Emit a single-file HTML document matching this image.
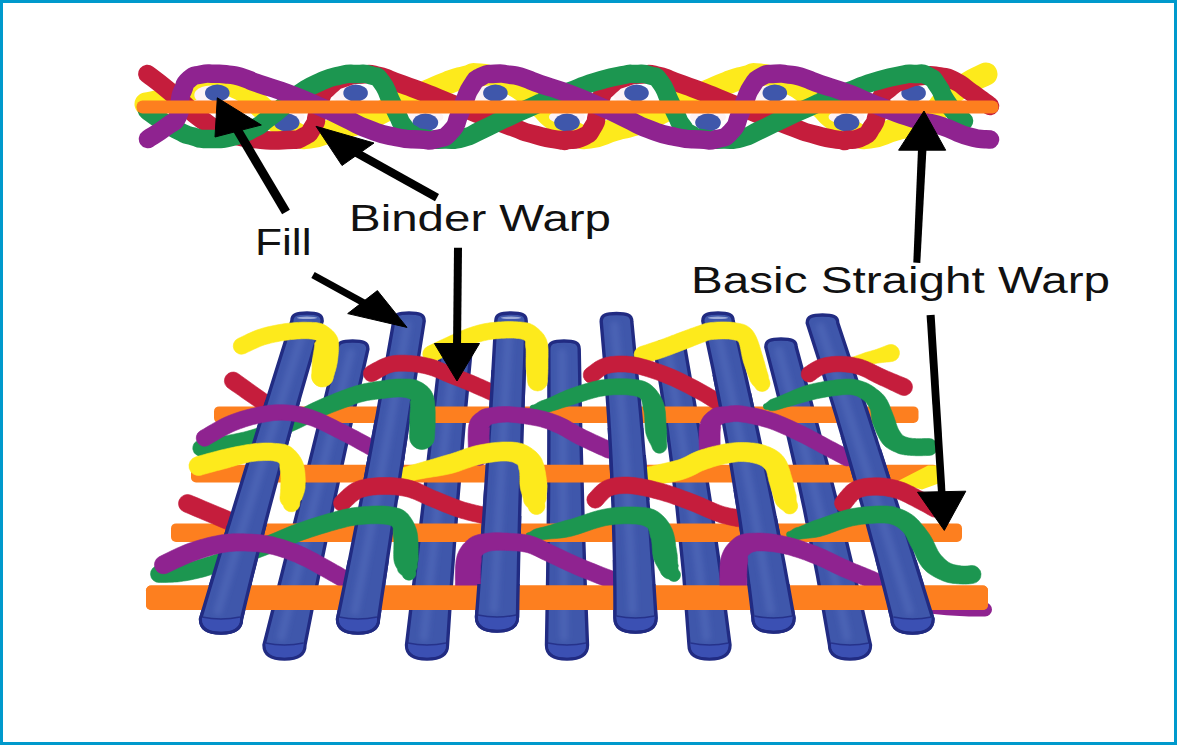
<!DOCTYPE html>
<html lang="en">
<head>
<meta charset="utf-8">
<title>3D woven structure: Fill, Binder Warp, Basic Straight Warp</title>
<style>
html,body{margin:0;padding:0;background:#fff;}
body{width:1179px;height:746px;overflow:hidden;font-family:"Liberation Sans",sans-serif;}
svg{display:block;}
</style>
</head>
<body>
<svg width="1179" height="746" viewBox="0 0 1179 746">
<defs><filter id="bl" filterUnits="userSpaceOnUse" x="0" y="0" width="1179" height="746"><feGaussianBlur stdDeviation="2.5"/></filter><clipPath id="c1"><rect x="470.0" y="370.0" width="56.0" height="42.0"/></clipPath><clipPath id="c2"><rect x="690.0" y="375.0" width="52.5" height="18.0"/></clipPath><clipPath id="c3"><rect x="0.0" y="393.0" width="1179.0" height="25.0"/></clipPath><clipPath id="c4"><rect x="0.0" y="400.0" width="1179.0" height="55.0"/></clipPath><clipPath id="c5"><rect x="330.0" y="420.0" width="78.5" height="48.0"/></clipPath><clipPath id="c6"><rect x="580.0" y="428.0" width="63.5" height="42.0"/></clipPath><clipPath id="c7"><rect x="820.0" y="436.0" width="57.5" height="13.0"/></clipPath><clipPath id="c8"><rect x="0.0" y="449.0" width="1179.0" height="29.0"/></clipPath><clipPath id="c9"><rect x="0.0" y="455.0" width="1179.0" height="45.0"/></clipPath><clipPath id="c10"><rect x="0.0" y="455.0" width="1179.0" height="45.0"/></clipPath><clipPath id="c11"><rect x="470.0" y="490.0" width="46.0" height="26.0"/></clipPath><clipPath id="c12"><rect x="0.0" y="516.0" width="1179.0" height="26.0"/></clipPath><clipPath id="c13"><rect x="700.0" y="490.0" width="65.0" height="26.0"/></clipPath><clipPath id="c14"><rect x="0.0" y="516.0" width="1179.0" height="26.0"/></clipPath><clipPath id="c15"><rect x="0.0" y="525.0" width="1179.0" height="67.0"/></clipPath><clipPath id="c16"><rect x="320.0" y="560.0" width="72.0" height="24.5"/></clipPath><clipPath id="c17"><rect x="590.0" y="560.0" width="62.5" height="24.5"/></clipPath><clipPath id="c18"><rect x="0.0" y="560.0" width="1179.0" height="24.5"/></clipPath><clipPath id="c19"><rect x="0.0" y="584.0" width="1179.0" height="76.0"/></clipPath><clipPath id="c20"><rect x="0.0" y="584.0" width="1179.0" height="76.0"/></clipPath><clipPath id="c21"><rect x="0.0" y="584.0" width="1179.0" height="76.0"/></clipPath><clipPath id="c22"><rect x="0.0" y="584.0" width="1179.0" height="76.0"/></clipPath><clipPath id="c23"><rect x="0.0" y="584.0" width="1179.0" height="76.0"/></clipPath><clipPath id="c24"><rect x="0.0" y="584.0" width="1179.0" height="76.0"/></clipPath></defs>
<rect x="0" y="0" width="1179" height="746" fill="#fff"/>
<rect x="1.5" y="1.5" width="1174" height="742" fill="none" stroke="#0099cc" stroke-width="3"/>
<path d="M146.0 104.0 C154.0 102.0 153.7 103.3 170.0 98.0 C186.3 92.7 180.0 92.7 195.0 88.0 C210.0 83.3 200.0 83.7 215.0 84.0 C230.0 84.3 225.0 81.7 240.0 89.0 C255.0 96.3 248.3 95.7 260.0 106.0 C271.7 116.3 263.3 111.0 275.0 120.0 C286.7 129.0 283.3 127.3 295.0 133.0 C306.7 138.7 296.7 138.2 310.0 137.0 C323.3 135.8 321.0 133.5 335.0 129.5 C349.0 125.5 340.3 128.8 352.0 125.0 C363.7 121.2 350.7 127.0 370.0 118.0 C389.3 109.0 391.0 106.8 410.0 98.0 C429.0 89.2 414.7 96.5 427.0 91.5 C439.3 86.5 434.3 87.7 447.0 83.0 C459.7 78.3 454.0 80.2 465.0 77.5 C476.0 74.8 467.7 73.8 480.0 75.0 C492.3 76.2 488.0 76.0 502.0 81.0 C516.0 86.0 509.3 81.7 522.0 90.0 C534.7 98.3 529.0 96.0 540.0 106.0 C551.0 116.0 543.3 111.0 555.0 120.0 C566.7 129.0 563.3 127.3 575.0 133.0 C586.7 138.7 576.7 138.2 590.0 137.0 C603.3 135.8 601.0 133.5 615.0 129.5 C629.0 125.5 620.3 128.8 632.0 125.0 C643.7 121.2 630.7 127.0 650.0 118.0 C669.3 109.0 671.0 106.8 690.0 98.0 C709.0 89.2 694.7 96.5 707.0 91.5 C719.3 86.5 714.3 87.7 727.0 83.0 C739.7 78.3 734.0 80.2 745.0 77.5 C756.0 74.8 747.7 73.8 760.0 75.0 C772.3 76.2 768.0 76.0 782.0 81.0 C796.0 86.0 789.3 81.7 802.0 90.0 C814.7 98.3 809.0 96.0 820.0 106.0 C831.0 116.0 823.3 111.0 835.0 120.0 C846.7 129.0 843.3 127.3 855.0 133.0 C866.7 138.7 856.7 138.2 870.0 137.0 C883.3 135.8 881.0 133.5 895.0 129.5 C909.0 125.5 900.3 128.8 912.0 125.0 C923.7 121.2 919.0 126.3 930.0 118.0 C941.0 109.7 933.3 111.0 945.0 100.0 C956.7 89.0 951.3 93.7 965.0 85.0 C978.7 76.3 979.0 77.7 986.0 74.0" fill="none" stroke="#fdea1c" stroke-width="23.0" stroke-linecap="round" stroke-linejoin="round" />
<ellipse cx="211.3" cy="95" rx="17" ry="9.5" fill="#fdf3f6"/>
<ellipse cx="349.6" cy="95" rx="17" ry="9.5" fill="#fdf3f6"/>
<ellipse cx="489.4" cy="95" rx="17" ry="9.5" fill="#fdf3f6"/>
<ellipse cx="630.5" cy="95" rx="17" ry="9.5" fill="#fdf3f6"/>
<ellipse cx="768.8" cy="95" rx="17" ry="9.5" fill="#fdf3f6"/>
<ellipse cx="907.6" cy="95" rx="17" ry="9.5" fill="#fdf3f6"/>
<ellipse cx="286.7" cy="117" rx="18" ry="7" fill="#fdf3f6"/>
<ellipse cx="425.4" cy="117" rx="18" ry="7" fill="#fdf3f6"/>
<ellipse cx="567.0" cy="117" rx="18" ry="7" fill="#fdf3f6"/>
<ellipse cx="708.0" cy="117" rx="18" ry="7" fill="#fdf3f6"/>
<ellipse cx="846.6" cy="117" rx="18" ry="7" fill="#fdf3f6"/>
<ellipse cx="217.3" cy="93" rx="12.3" ry="8.6" fill="#3f57ab"/>
<ellipse cx="355.6" cy="93" rx="12.3" ry="8.6" fill="#3f57ab"/>
<ellipse cx="495.4" cy="93" rx="12.3" ry="8.6" fill="#3f57ab"/>
<ellipse cx="636.5" cy="93" rx="12.3" ry="8.6" fill="#3f57ab"/>
<ellipse cx="774.8" cy="93" rx="12.3" ry="8.6" fill="#3f57ab"/>
<ellipse cx="913.6" cy="93" rx="12.3" ry="8.6" fill="#3f57ab"/>
<ellipse cx="286.7" cy="122.5" rx="12.8" ry="9" fill="#3f57ab"/>
<ellipse cx="425.4" cy="122.5" rx="12.8" ry="9" fill="#3f57ab"/>
<ellipse cx="567.0" cy="122.5" rx="12.8" ry="9" fill="#3f57ab"/>
<ellipse cx="708.0" cy="122.5" rx="12.8" ry="9" fill="#3f57ab"/>
<ellipse cx="846.6" cy="122.5" rx="12.8" ry="9" fill="#3f57ab"/>
<path d="M147.4 74.0 C154.4 79.4 155.9 80.0 168.4 90.3 C180.9 100.6 174.1 95.4 185.0 105.0 C195.9 114.6 187.7 110.0 201.0 119.0 C214.3 128.0 207.0 125.3 225.0 132.0 C243.0 138.7 234.3 136.3 255.0 139.0 C275.7 141.7 271.0 140.7 287.0 140.0 C303.0 139.3 294.3 141.3 303.0 137.0 C311.7 132.7 308.3 134.3 313.0 127.0 C317.7 119.7 314.7 124.0 317.0 115.0 C319.3 106.0 315.7 109.7 320.0 100.0 C324.3 90.3 321.7 93.5 330.0 86.0 C338.3 78.5 334.3 81.3 345.0 77.5 C355.7 73.7 350.7 75.0 362.0 74.5 C373.3 74.0 367.3 73.3 379.0 76.0 C390.7 78.7 382.3 77.2 397.0 82.5 C411.7 87.8 402.3 84.0 423.0 92.0 C443.7 100.0 430.7 95.3 459.0 106.5 C487.3 117.7 482.3 116.0 508.0 125.5 C533.7 135.0 518.7 130.2 536.0 135.0 C553.3 139.8 549.7 138.3 560.0 140.0 C570.3 141.7 559.3 141.0 567.0 140.0 C574.7 139.0 574.3 141.3 583.0 137.0 C591.7 132.7 588.3 134.3 593.0 127.0 C597.7 119.7 594.7 124.0 597.0 115.0 C599.3 106.0 595.7 109.7 600.0 100.0 C604.3 90.3 601.7 93.5 610.0 86.0 C618.3 78.5 614.3 81.3 625.0 77.5 C635.7 73.7 630.7 75.0 642.0 74.5 C653.3 74.0 647.3 73.3 659.0 76.0 C670.7 78.7 662.3 77.2 677.0 82.5 C691.7 87.8 682.3 84.0 703.0 92.0 C723.7 100.0 710.7 95.3 739.0 106.5 C767.3 117.7 762.3 116.0 788.0 125.5 C813.7 135.0 798.7 130.2 816.0 135.0 C833.3 139.8 829.8 138.3 840.0 140.0 C850.2 141.7 839.3 141.0 846.6 140.0 C853.9 139.0 853.5 141.3 862.0 137.0 C870.5 132.7 867.0 134.3 872.0 127.0 C877.0 119.7 874.3 124.0 877.0 115.0 C879.7 106.0 875.7 109.0 880.0 100.0 C884.3 91.0 881.7 94.7 890.0 88.0 C898.3 81.3 894.3 84.0 905.0 80.0 C915.7 76.0 910.3 77.2 922.0 76.0 C933.7 74.8 929.0 74.8 940.0 76.5 C951.0 78.2 945.5 76.4 955.0 81.0 C964.5 85.6 959.5 84.0 968.5 90.3 C977.5 96.6 974.8 94.8 982.0 100.0 C989.2 105.2 987.3 104.0 990.0 106.0" fill="none" stroke="#c51d3c" stroke-width="18.5" stroke-linecap="round" stroke-linejoin="round" />
<path d="M147.0 110.5 C152.0 114.0 151.3 114.2 162.0 121.0 C172.7 127.8 168.7 125.9 179.0 131.0 C189.3 136.1 183.0 133.7 193.0 136.4 C203.0 139.1 195.5 139.0 209.0 139.0 C222.5 139.0 218.5 140.0 233.5 136.4 C248.5 132.8 242.7 134.1 254.0 128.3 C265.3 122.5 257.2 126.8 267.5 119.0 C277.8 111.2 274.2 113.7 285.0 105.0 C295.8 96.3 288.3 100.7 300.0 93.0 C311.7 85.3 306.7 87.8 320.0 82.0 C333.3 76.2 327.8 78.2 340.0 75.5 C352.2 72.8 346.1 74.0 356.6 74.0 C367.1 74.0 363.3 72.8 371.6 75.5 C379.9 78.2 375.3 73.8 381.6 82.0 C387.9 90.2 385.3 89.0 390.6 100.0 C395.9 111.0 393.3 106.3 397.6 115.0 C401.9 123.7 398.9 119.7 403.6 126.0 C408.3 132.3 404.6 129.8 411.6 134.0 C418.6 138.2 413.6 136.7 424.6 138.5 C435.6 140.3 431.9 139.7 444.6 139.5 C457.3 139.3 449.9 141.3 462.6 138.0 C475.3 134.7 467.3 136.5 482.6 129.5 C497.9 122.5 490.6 125.3 508.6 117.0 C526.6 108.7 522.9 111.0 536.6 104.5 C550.3 98.0 539.3 101.7 549.6 97.5 C559.9 93.3 552.6 97.2 567.6 92.0 C582.6 86.8 576.6 87.5 594.6 82.0 C612.6 76.5 608.0 78.1 621.6 75.4 C635.2 72.7 625.7 74.0 635.3 74.0 C644.9 74.0 642.0 72.8 650.3 75.5 C658.6 78.2 654.0 73.8 660.3 82.0 C666.6 90.2 664.0 89.0 669.3 100.0 C674.6 111.0 672.0 106.3 676.3 115.0 C680.6 123.7 677.6 119.7 682.3 126.0 C687.0 132.3 683.3 129.8 690.3 134.0 C697.3 138.2 692.3 136.7 703.3 138.5 C714.3 140.3 710.6 139.7 723.3 139.5 C736.0 139.3 728.6 141.3 741.3 138.0 C754.0 134.7 746.0 136.5 761.3 129.5 C776.6 122.5 769.3 125.3 787.3 117.0 C805.3 108.7 801.6 111.0 815.3 104.5 C829.0 98.0 818.0 101.7 828.3 97.5 C838.6 93.3 831.3 97.2 846.3 92.0 C861.3 86.8 855.3 87.5 873.3 82.0 C891.3 76.5 886.7 78.1 900.3 75.4 C913.9 72.7 904.8 73.8 914.0 74.0 C923.2 74.2 920.0 72.0 928.0 76.0 C936.0 80.0 932.2 78.0 938.0 86.0 C943.8 94.0 939.5 90.7 945.5 100.0 C951.5 109.3 949.8 107.0 956.0 114.0 C962.2 121.0 961.3 118.7 964.0 121.0" fill="none" stroke="#1c9650" stroke-width="18.5" stroke-linecap="round" stroke-linejoin="round" />
<path d="M148.0 139.0 C154.0 135.0 156.0 134.7 166.0 127.0 C176.0 119.3 173.3 125.0 178.0 116.0 C182.7 107.0 178.3 108.7 180.0 100.0 C181.7 91.3 180.0 96.8 183.0 90.0 C186.0 83.2 183.0 84.7 189.0 79.5 C195.0 74.3 192.5 76.4 201.0 74.5 C209.5 72.6 205.4 73.7 214.6 73.8 C223.8 73.9 219.4 73.5 228.6 74.7 C237.8 75.9 231.8 74.3 242.1 77.4 C252.4 80.5 244.8 78.8 259.6 84.0 C274.4 89.2 266.6 85.5 286.6 93.0 C306.6 100.5 300.3 98.2 319.6 106.5 C338.9 114.8 328.4 110.5 344.6 118.0 C360.8 125.5 351.2 122.7 368.1 129.0 C385.0 135.3 378.1 133.5 395.3 137.0 C412.5 140.5 405.8 138.8 419.6 139.5 C433.4 140.2 426.1 141.8 436.6 139.0 C447.1 136.2 443.6 139.1 451.2 131.0 C458.8 122.9 454.8 124.7 459.3 114.7 C463.8 104.7 460.5 110.6 464.6 101.0 C468.7 91.4 466.1 94.1 471.6 86.0 C477.1 77.9 473.2 80.8 481.0 76.7 C488.8 72.6 485.7 74.5 495.0 73.8 C504.3 73.1 499.8 73.5 509.0 74.7 C518.2 75.9 512.2 74.3 522.5 77.4 C532.8 80.5 525.2 78.8 540.0 84.0 C554.8 89.2 547.0 85.5 567.0 93.0 C587.0 100.5 580.7 98.2 600.0 106.5 C619.3 114.8 608.8 110.5 625.0 118.0 C641.2 125.5 631.6 122.7 648.5 129.0 C665.4 135.3 658.5 133.5 675.7 137.0 C692.9 140.5 686.2 138.8 700.0 139.5 C713.8 140.2 706.5 141.8 717.0 139.0 C727.5 136.2 724.0 139.1 731.6 131.0 C739.2 122.9 735.2 124.7 739.7 114.7 C744.2 104.7 740.9 110.6 745.0 101.0 C749.1 91.4 746.5 94.1 752.0 86.0 C757.5 77.9 753.7 80.8 761.4 76.7 C769.1 72.6 765.8 74.5 775.0 73.8 C784.2 73.1 779.8 73.5 789.0 74.7 C798.2 75.9 792.2 74.3 802.5 77.4 C812.8 80.5 805.2 78.8 820.0 84.0 C834.8 89.2 827.0 85.5 847.0 93.0 C867.0 100.5 857.7 97.9 880.0 106.5 C902.3 115.1 893.5 112.3 914.0 118.8 C934.5 125.3 923.2 120.1 941.4 126.0 C959.6 131.9 952.3 131.9 968.5 136.4 C984.7 140.9 982.8 138.5 990.0 139.5" fill="none" stroke="#8f2390" stroke-width="18.5" stroke-linecap="round" stroke-linejoin="round" />
<rect x="136.5" y="100.5" width="862" height="13" rx="6" fill="#fd7f1f"/>
<g>
<path d="M264.0 645.0 Q301.5 497.0 337.4 349.0 C337.4 342.5 342.4 341.0 352.6 341.0 C362.9 341.0 367.9 342.5 367.9 349.0 Q333.6 497.0 305.0 645.0 C305.0 656.0 296.0 659.0 284.5 659.0 C273.0 659.0 264.0 656.0 264.0 645.0 Z" fill="#3f57ab" stroke="#212b82" stroke-width="3.4" stroke-linejoin="round"/>
<path d="M350.6 353.0 Q315.1 500.0 281.5 637.0" fill="none" stroke="#6079c8" stroke-opacity="0.32" stroke-width="9" stroke-linecap="round" filter="url(#bl)"/>
<path d="M265.5 643.0 Q284.5 647.0 303.5 643.0 L303.5 645.0 C303.5 655.0 294.5 657.5 284.5 657.5 C274.5 657.5 265.5 655.0 265.5 645.0 Z" fill="#3b50b3"/>
<path d="M265.5 643.0 Q284.5 647.0 303.5 643.0" fill="none" stroke="#212b82" stroke-width="1.6" stroke-opacity="0.8"/>
</g>
<g>
<path d="M406.5 645.0 Q424.4 497.0 440.8 349.0 C440.8 342.5 445.8 341.0 456.0 341.0 C466.2 341.0 471.2 342.5 471.2 349.0 Q456.6 497.0 447.5 645.0 C447.5 656.0 438.5 659.0 427.0 659.0 C415.5 659.0 406.5 656.0 406.5 645.0 Z" fill="#3f57ab" stroke="#212b82" stroke-width="3.4" stroke-linejoin="round"/>
<path d="M454.0 353.0 Q438.0 500.0 424.0 637.0" fill="none" stroke="#6079c8" stroke-opacity="0.32" stroke-width="9" stroke-linecap="round" filter="url(#bl)"/>
<path d="M408.0 643.0 Q427.0 647.0 446.0 643.0 L446.0 645.0 C446.0 655.0 437.0 657.5 427.0 657.5 C417.0 657.5 408.0 655.0 408.0 645.0 Z" fill="#3b50b3"/>
<path d="M408.0 643.0 Q427.0 647.0 446.0 643.0" fill="none" stroke="#212b82" stroke-width="1.6" stroke-opacity="0.8"/>
</g>
<g>
<path d="M546.5 645.0 Q549.5 497.0 548.8 349.0 C548.8 342.5 553.8 341.0 564.0 341.0 C574.2 341.0 579.2 342.5 579.2 349.0 Q581.5 497.0 587.5 645.0 C587.5 656.0 578.5 659.0 567.0 659.0 C555.5 659.0 546.5 656.0 546.5 645.0 Z" fill="#3f57ab" stroke="#212b82" stroke-width="3.4" stroke-linejoin="round"/>
<path d="M562.0 353.0 Q563.0 500.0 564.0 637.0" fill="none" stroke="#6079c8" stroke-opacity="0.32" stroke-width="9" stroke-linecap="round" filter="url(#bl)"/>
<path d="M548.0 643.0 Q567.0 647.0 586.0 643.0 L586.0 645.0 C586.0 655.0 577.0 657.5 567.0 657.5 C557.0 657.5 548.0 655.0 548.0 645.0 Z" fill="#3b50b3"/>
<path d="M548.0 643.0 Q567.0 647.0 586.0 643.0" fill="none" stroke="#212b82" stroke-width="1.6" stroke-opacity="0.8"/>
</g>
<g>
<path d="M689.0 645.0 Q679.7 497.0 654.8 349.0 C654.8 342.5 659.8 341.0 670.0 341.0 C680.2 341.0 685.2 342.5 685.2 349.0 Q711.8 497.0 730.0 645.0 C730.0 656.0 721.0 659.0 709.5 659.0 C698.0 659.0 689.0 656.0 689.0 645.0 Z" fill="#3f57ab" stroke="#212b82" stroke-width="3.4" stroke-linejoin="round"/>
<path d="M668.0 353.0 Q693.2 500.0 706.5 637.0" fill="none" stroke="#6079c8" stroke-opacity="0.32" stroke-width="9" stroke-linecap="round" filter="url(#bl)"/>
<path d="M690.5 643.0 Q709.5 647.0 728.5 643.0 L728.5 645.0 C728.5 655.0 719.5 657.5 709.5 657.5 C699.5 657.5 690.5 655.0 690.5 645.0 Z" fill="#3b50b3"/>
<path d="M690.5 643.0 Q709.5 647.0 728.5 643.0" fill="none" stroke="#212b82" stroke-width="1.6" stroke-opacity="0.8"/>
</g>
<g>
<path d="M829.5 645.0 Q805.5 496.0 765.8 347.0 C765.8 340.5 770.8 339.0 781.0 339.0 C791.2 339.0 796.2 340.5 796.2 347.0 Q837.5 496.0 870.5 645.0 C870.5 656.0 861.5 659.0 850.0 659.0 C838.5 659.0 829.5 656.0 829.5 645.0 Z" fill="#3f57ab" stroke="#212b82" stroke-width="3.4" stroke-linejoin="round"/>
<path d="M779.0 351.0 Q819.0 499.0 847.0 637.0" fill="none" stroke="#6079c8" stroke-opacity="0.32" stroke-width="9" stroke-linecap="round" filter="url(#bl)"/>
<path d="M831.0 643.0 Q850.0 647.0 869.0 643.0 L869.0 645.0 C869.0 655.0 860.0 657.5 850.0 657.5 C840.0 657.5 831.0 655.0 831.0 645.0 Z" fill="#3b50b3"/>
<path d="M831.0 643.0 Q850.0 647.0 869.0 643.0" fill="none" stroke="#212b82" stroke-width="1.6" stroke-opacity="0.8"/>
</g>
<path d="M925.0 606.0 C936.7 607.0 940.0 607.8 960.0 609.0 C980.0 610.2 976.7 609.3 985.0 609.5" fill="none" stroke="#8f2390" stroke-width="14.0" stroke-linecap="round" stroke-linejoin="round" />
<rect x="214.0" y="406.4" width="704.5" height="16.6" rx="5" fill="#fd7f1f"/>
<rect x="191.0" y="464.8" width="747.0" height="17.7" rx="5" fill="#fd7f1f"/>
<rect x="171.0" y="523.4" width="791.0" height="18.6" rx="5" fill="#fd7f1f"/>
<rect x="146.0" y="585.6" width="842.0" height="24.4" rx="5" fill="#fd7f1f"/>
<path d="M227.0 387.1L228.9 388.5L231.6 390.4L234.8 392.6L238.4 395.1L242.1 397.8L246.0 400.4L249.8 403.1L253.4 405.5L256.6 407.7L259.2 409.5L261.5 411.1L263.6 412.4L265.5 413.6L267.2 414.6L268.7 415.5L270.1 416.3L271.2 416.9L272.2 417.5L273.0 417.9L273.7 418.3A8.5 8.5 0 0 0 282.3 403.7L281.5 403.2L280.6 402.7L279.6 402.1L278.5 401.5L277.3 400.8L275.9 400.0L274.4 399.1L272.7 398.1L270.8 396.8L268.8 395.5L266.2 393.7L263.1 391.5L259.6 389.1L255.9 386.4L252.1 383.7L248.4 381.0L244.8 378.4L241.7 376.2L239.0 374.3L237.0 372.9A8.8 8.8 0 0 0 227.0 387.1Z" fill="#c51d3c" stroke="#c51d3c" stroke-width="0.6" stroke-linejoin="round" />
<path d="M184.0 511.8L186.5 512.8L189.9 514.2L193.8 515.9L198.3 517.8L203.0 519.8L207.8 521.8L212.6 523.8L217.1 525.7L221.1 527.4L224.5 528.8L227.4 530.0L230.1 531.2L232.6 532.2L234.9 533.2L237.0 534.1L238.9 534.9L240.6 535.6L242.1 536.3L243.4 536.8L244.5 537.3A9.0 9.0 0 0 0 251.5 520.7L250.4 520.3L249.1 519.7L247.7 519.1L246.0 518.3L244.1 517.5L242.0 516.6L239.7 515.7L237.1 514.6L234.4 513.4L231.5 512.2L228.1 510.8L224.1 509.1L219.6 507.2L214.8 505.2L210.0 503.2L205.2 501.2L200.8 499.3L196.8 497.6L193.5 496.3L191.0 495.2A9.0 9.0 0 0 0 184.0 511.8Z" fill="#c51d3c" stroke="#c51d3c" stroke-width="0.6" stroke-linejoin="round" />
<g>
<path d="M200.5 619.0 Q244.9 470.0 291.8 321.0 C291.8 314.5 296.8 313.0 307.0 313.0 C317.2 313.0 322.2 314.5 322.2 321.0 Q277.1 470.0 241.5 619.0 C241.5 630.0 232.5 633.0 221.0 633.0 C209.5 633.0 200.5 630.0 200.5 619.0 Z" fill="#3f57ab" stroke="#212b82" stroke-width="3.4" stroke-linejoin="round"/>
<path d="M305.0 325.0 Q258.5 473.0 218.0 611.0" fill="none" stroke="#6079c8" stroke-opacity="0.32" stroke-width="9" stroke-linecap="round" filter="url(#bl)"/>
<path d="M202.0 617.0 Q221.0 621.0 240.0 617.0 L240.0 619.0 C240.0 629.0 231.0 631.5 221.0 631.5 C211.0 631.5 202.0 629.0 202.0 619.0 Z" fill="#3b50b3"/>
<path d="M202.0 617.0 Q221.0 621.0 240.0 617.0" fill="none" stroke="#212b82" stroke-width="1.6" stroke-opacity="0.8"/>
<ellipse cx="307.0" cy="317.8" rx="10.2" ry="1.2" fill="#dfe6f7" fill-opacity="0.6"/>
</g>
<g>
<path d="M337.5 619.0 Q368.4 470.0 393.8 321.0 C393.8 314.5 398.8 313.0 409.0 313.0 C419.2 313.0 424.2 314.5 424.2 321.0 Q400.6 470.0 378.5 619.0 C378.5 630.0 369.5 633.0 358.0 633.0 C346.5 633.0 337.5 630.0 337.5 619.0 Z" fill="#3f57ab" stroke="#212b82" stroke-width="3.4" stroke-linejoin="round"/>
<path d="M407.0 325.0 Q382.0 473.0 355.0 611.0" fill="none" stroke="#6079c8" stroke-opacity="0.32" stroke-width="9" stroke-linecap="round" filter="url(#bl)"/>
<path d="M339.0 617.0 Q358.0 621.0 377.0 617.0 L377.0 619.0 C377.0 629.0 368.0 631.5 358.0 631.5 C348.0 631.5 339.0 629.0 339.0 619.0 Z" fill="#3b50b3"/>
<path d="M339.0 617.0 Q358.0 621.0 377.0 617.0" fill="none" stroke="#212b82" stroke-width="1.6" stroke-opacity="0.8"/>
</g>
<g>
<path d="M476.5 617.0 Q487.9 469.0 495.8 321.0 C495.8 314.5 500.8 313.0 511.0 313.0 C521.2 313.0 526.2 314.5 526.2 321.0 Q520.0 469.0 517.5 617.0 C517.5 628.0 508.5 631.0 497.0 631.0 C485.5 631.0 476.5 628.0 476.5 617.0 Z" fill="#3f57ab" stroke="#212b82" stroke-width="3.4" stroke-linejoin="round"/>
<path d="M509.0 325.0 Q501.5 472.0 494.0 609.0" fill="none" stroke="#6079c8" stroke-opacity="0.32" stroke-width="9" stroke-linecap="round" filter="url(#bl)"/>
<path d="M478.0 615.0 Q497.0 619.0 516.0 615.0 L516.0 617.0 C516.0 627.0 507.0 629.5 497.0 629.5 C487.0 629.5 478.0 627.0 478.0 617.0 Z" fill="#3b50b3"/>
<path d="M478.0 615.0 Q497.0 619.0 516.0 615.0" fill="none" stroke="#212b82" stroke-width="1.6" stroke-opacity="0.8"/>
<ellipse cx="511.0" cy="317.8" rx="10.2" ry="1.2" fill="#dfe6f7" fill-opacity="0.6"/>
</g>
<g>
<path d="M615.0 618.0 Q615.0 469.8 601.2 321.5 C601.2 315.0 606.2 313.5 616.5 313.5 C626.8 313.5 631.8 315.0 631.8 321.5 Q647.0 469.8 656.0 618.0 C656.0 629.0 647.0 632.0 635.5 632.0 C624.0 632.0 615.0 629.0 615.0 618.0 Z" fill="#3f57ab" stroke="#212b82" stroke-width="3.4" stroke-linejoin="round"/>
<path d="M614.5 325.5 Q628.5 472.8 632.5 610.0" fill="none" stroke="#6079c8" stroke-opacity="0.32" stroke-width="9" stroke-linecap="round" filter="url(#bl)"/>
<path d="M616.5 616.0 Q635.5 620.0 654.5 616.0 L654.5 618.0 C654.5 628.0 645.5 630.5 635.5 630.5 C625.5 630.5 616.5 628.0 616.5 618.0 Z" fill="#3b50b3"/>
<path d="M616.5 616.0 Q635.5 620.0 654.5 616.0" fill="none" stroke="#212b82" stroke-width="1.6" stroke-opacity="0.8"/>
</g>
<g>
<path d="M753.0 618.0 Q735.7 469.5 702.8 321.0 C702.8 314.5 707.8 313.0 718.0 313.0 C728.2 313.0 733.2 314.5 733.2 321.0 Q767.8 469.5 794.0 618.0 C794.0 629.0 785.0 632.0 773.5 632.0 C762.0 632.0 753.0 629.0 753.0 618.0 Z" fill="#3f57ab" stroke="#212b82" stroke-width="3.4" stroke-linejoin="round"/>
<path d="M716.0 325.0 Q749.2 472.5 770.5 610.0" fill="none" stroke="#6079c8" stroke-opacity="0.32" stroke-width="9" stroke-linecap="round" filter="url(#bl)"/>
<path d="M754.5 616.0 Q773.5 620.0 792.5 616.0 L792.5 618.0 C792.5 628.0 783.5 630.5 773.5 630.5 C763.5 630.5 754.5 628.0 754.5 618.0 Z" fill="#3b50b3"/>
<path d="M754.5 616.0 Q773.5 620.0 792.5 616.0" fill="none" stroke="#212b82" stroke-width="1.6" stroke-opacity="0.8"/>
<ellipse cx="718.0" cy="317.8" rx="10.2" ry="1.2" fill="#dfe6f7" fill-opacity="0.6"/>
</g>
<g>
<path d="M892.0 619.0 Q855.5 471.0 807.2 323.0 C807.2 316.5 812.2 315.0 822.5 315.0 C832.8 315.0 837.8 316.5 837.8 323.0 Q887.5 471.0 933.0 619.0 C933.0 630.0 924.0 633.0 912.5 633.0 C901.0 633.0 892.0 630.0 892.0 619.0 Z" fill="#3f57ab" stroke="#212b82" stroke-width="3.4" stroke-linejoin="round"/>
<path d="M820.5 327.0 Q869.0 474.0 909.5 611.0" fill="none" stroke="#6079c8" stroke-opacity="0.32" stroke-width="9" stroke-linecap="round" filter="url(#bl)"/>
<path d="M893.5 617.0 Q912.5 621.0 931.5 617.0 L931.5 619.0 C931.5 629.0 922.5 631.5 912.5 631.5 C902.5 631.5 893.5 629.0 893.5 619.0 Z" fill="#3b50b3"/>
<path d="M893.5 617.0 Q912.5 621.0 931.5 617.0" fill="none" stroke="#212b82" stroke-width="1.6" stroke-opacity="0.8"/>
</g>
<path d="M244.9 353.5L246.2 352.9L247.8 352.1L249.6 351.3L251.7 350.3L253.8 349.3L256.0 348.3L258.3 347.3L260.5 346.3L262.6 345.5L264.6 344.8L266.5 344.2L268.6 343.7L270.7 343.1L272.9 342.6L275.1 342.1L277.3 341.7L279.6 341.2L281.8 340.8L284.0 340.5L286.2 340.2L288.3 339.9L290.5 339.6L292.7 339.4L294.9 339.2L297.1 339.0L299.3 338.9L301.3 338.8L303.3 338.7L305.1 338.7L306.8 338.7L308.5 338.8L310.0 338.9L311.4 339.1L312.7 339.2L313.8 339.4L314.7 339.7L315.4 339.9L315.8 340.1L316.1 340.3L316.3 340.4L316.4 340.6L316.3 340.8L316.2 341.2L315.9 341.6L315.5 341.9L315.2 342.4L314.9 342.8L314.7 343.4L314.6 344.0L314.6 344.6L314.6 345.1L314.6 345.8L314.5 346.9L314.3 348.1L314.1 349.6L313.8 351.2L313.5 352.9L313.2 354.7L312.9 356.6L312.6 358.4L312.4 360.0L312.3 361.7L312.2 363.5L312.1 365.4L312.1 367.2L312.0 368.9L311.9 370.5L311.9 372.0L311.8 373.3L311.6 374.2A11.0 11.0 0 0 0 333.4 377.8L333.5 376.8L333.9 375.7L334.3 374.3L334.7 372.7L335.3 371.0L335.8 369.1L336.3 367.2L336.7 365.3L337.1 363.4L337.4 361.6L337.6 360.0L337.8 358.4L338.0 356.6L338.2 354.6L338.4 352.6L338.6 350.5L338.7 348.4L338.7 346.1L338.6 343.8L338.4 341.4L337.9 339.3L337.3 337.5L336.3 335.6L335.2 333.9L333.9 332.2L332.4 330.7L330.8 329.3L329.2 328.0L327.5 326.8L325.7 325.6L323.8 324.6L321.9 323.8L320.0 323.2L318.1 322.9L316.3 322.6L314.5 322.5L312.7 322.4L310.9 322.3L309.1 322.3L307.2 322.3L305.2 322.2L303.0 322.2L300.7 322.3L298.4 322.4L296.0 322.6L293.6 322.7L291.1 323.0L288.7 323.2L286.2 323.5L283.8 323.8L281.5 324.2L279.1 324.6L276.6 325.0L274.2 325.5L271.7 326.0L269.2 326.5L266.8 327.1L264.3 327.7L261.9 328.4L259.4 329.2L256.9 330.0L254.3 331.0L251.8 332.1L249.2 333.2L246.8 334.3L244.6 335.4L242.5 336.4L240.7 337.3L239.2 338.0L238.1 338.5A8.2 8.2 0 0 0 244.9 353.5Z" fill="#fdea1c" stroke="#fdea1c" stroke-width="0.6" stroke-linejoin="round" />
<path d="M434.6 361.4L435.7 360.9L437.1 360.2L438.8 359.4L440.7 358.5L442.8 357.5L444.9 356.5L447.1 355.4L449.3 354.4L451.4 353.4L453.4 352.5L455.4 351.6L457.5 350.6L459.6 349.7L461.7 348.7L463.8 347.8L465.8 346.9L467.9 346.0L469.9 345.2L471.8 344.5L473.7 343.8L475.6 343.2L477.5 342.5L479.3 342.0L481.1 341.5L482.8 341.0L484.6 340.6L486.4 340.2L488.2 339.8L490.1 339.5L492.1 339.2L494.2 338.9L496.6 338.7L499.1 338.5L501.6 338.3L504.2 338.2L506.7 338.1L509.2 338.1L511.5 338.1L513.6 338.1L515.5 338.2L517.2 338.4L518.8 338.5L520.2 338.8L521.3 339.0L522.3 339.3L523.0 339.5L523.6 339.8L524.1 340.1L524.5 340.3L524.8 340.6L525.2 340.9L525.4 341.3L525.4 341.8L525.5 342.4L525.5 343.0L525.4 343.7L525.4 344.5L525.5 345.3L525.6 346.3L525.7 347.2L525.9 348.2L526.0 349.4L526.1 350.9L526.1 352.7L526.1 354.6L526.1 356.7L526.0 358.8L526.0 361.0L526.0 363.1L526.0 365.2L526.1 367.2L526.2 369.0L526.4 370.9L526.6 372.8L526.8 374.6L527.0 376.3L527.2 377.8L527.3 379.2L527.4 380.4L527.5 381.3A10.0 10.0 0 0 0 547.5 380.7L547.5 379.7L547.5 378.6L547.6 377.2L547.7 375.6L547.8 373.9L547.9 372.1L547.9 370.3L548.0 368.4L548.0 366.5L548.0 364.8L548.0 363.1L548.0 361.3L548.0 359.3L548.1 357.1L548.1 354.8L548.1 352.5L548.1 350.1L548.0 347.7L547.7 345.2L547.3 342.8L546.7 340.6L546.0 338.7L545.0 336.9L544.0 335.1L542.7 333.4L541.4 331.9L539.9 330.4L538.4 329.0L536.8 327.7L535.2 326.4L533.4 325.3L531.6 324.4L529.8 323.6L527.9 323.1L526.0 322.7L524.2 322.4L522.3 322.2L520.4 322.0L518.5 321.9L516.5 321.8L514.2 321.7L511.7 321.6L509.1 321.6L506.4 321.6L503.6 321.7L500.7 321.9L497.9 322.0L495.1 322.3L492.5 322.5L489.9 322.8L487.5 323.2L485.2 323.6L483.0 324.0L480.8 324.5L478.7 325.0L476.6 325.6L474.5 326.2L472.5 326.8L470.4 327.5L468.3 328.2L466.1 329.0L463.8 329.9L461.5 330.8L459.3 331.7L457.1 332.7L454.9 333.7L452.8 334.7L450.6 335.6L448.6 336.6L446.6 337.5L444.5 338.4L442.3 339.5L440.0 340.5L437.8 341.6L435.6 342.6L433.6 343.6L431.7 344.5L430.0 345.3L428.6 346.0L427.4 346.6A8.2 8.2 0 0 0 434.6 361.4Z" fill="#fdea1c" stroke="#fdea1c" stroke-width="0.6" stroke-linejoin="round" />
<path d="M644.5 363.1L645.6 362.8L647.1 362.4L648.8 361.9L650.7 361.3L652.8 360.7L655.0 360.1L657.3 359.4L659.5 358.7L661.7 358.0L663.9 357.3L665.9 356.6L667.9 355.8L670.0 355.1L672.0 354.3L674.1 353.5L676.1 352.7L678.1 352.0L680.1 351.2L682.1 350.4L684.1 349.7L686.1 348.9L688.3 348.1L690.4 347.2L692.5 346.4L694.6 345.5L696.7 344.7L698.6 343.9L700.5 343.2L702.2 342.6L703.8 342.0L705.3 341.5L706.6 341.0L707.6 340.6L708.4 340.3L709.1 340.1L709.5 340.0L710.0 339.8L710.7 339.7L711.6 339.6L712.8 339.5L714.4 339.3L716.2 339.2L718.2 339.1L720.3 339.0L722.5 338.9L724.6 338.9L726.7 339.0L728.6 339.0L730.2 339.2L731.7 339.4L733.2 339.7L734.6 340.0L735.8 340.3L736.7 340.5L737.3 340.8L737.7 341.1L737.9 341.2L738.1 341.4L738.3 341.7L738.6 342.1L739.0 342.8L739.4 343.9L739.9 345.5L740.3 347.5L740.8 349.7L741.2 352.1L741.7 354.6L742.2 357.1L742.8 359.6L743.4 361.9L744.1 364.0L744.7 365.9L745.4 367.7L746.0 369.6L746.7 371.4L747.3 373.1L747.9 374.7L748.5 376.3L749.1 377.8L749.6 379.3L750.2 380.7L750.8 381.9L751.5 383.0L752.1 383.9L752.8 384.8L753.4 385.5L753.9 386.0L754.4 386.5L754.6 386.8L754.8 387.0A8.0 8.0 0 0 0 769.2 380.0L769.0 379.4L768.8 378.8L768.6 378.2L768.5 377.5L768.4 376.9L768.3 376.1L768.2 375.4L768.0 374.6L767.7 373.7L767.4 372.7L767.0 371.6L766.6 370.2L766.2 368.8L765.7 367.2L765.3 365.5L764.8 363.7L764.3 361.8L763.7 359.9L763.1 357.9L762.6 356.1L762.0 354.3L761.4 352.2L760.7 349.9L760.0 347.5L759.2 344.9L758.3 342.3L757.3 339.6L756.2 337.0L754.9 334.4L753.4 331.9L751.7 329.7L749.8 327.9L747.7 326.4L745.6 325.3L743.5 324.4L741.4 323.9L739.6 323.5L737.8 323.2L736.1 322.9L734.3 322.6L732.1 322.3L729.7 322.1L727.2 322.0L724.7 321.9L722.2 321.9L719.8 322.0L717.4 322.1L715.1 322.2L713.1 322.4L711.2 322.5L709.5 322.7L707.9 323.0L706.4 323.2L705.1 323.6L703.8 323.9L702.7 324.3L701.7 324.7L700.6 325.1L699.6 325.5L698.2 326.0L696.5 326.5L694.7 327.2L692.7 327.9L690.6 328.6L688.5 329.4L686.3 330.2L684.2 331.0L682.0 331.8L679.9 332.6L677.9 333.3L675.9 334.1L673.9 334.9L671.8 335.6L669.8 336.4L667.8 337.2L665.8 337.9L663.9 338.7L661.9 339.4L660.0 340.1L658.1 340.7L656.2 341.4L654.1 342.1L652.0 342.8L649.8 343.5L647.7 344.2L645.7 344.9L643.8 345.5L642.1 346.1L640.6 346.5L639.5 346.9A8.5 8.5 0 0 0 644.5 363.1Z" fill="#fdea1c" stroke="#fdea1c" stroke-width="0.6" stroke-linejoin="round" />
<path d="M853.0 366.4L854.2 366.2L855.8 366.0L857.6 365.8L859.7 365.6L862.0 365.4L864.4 365.2L866.8 364.9L869.1 364.6L871.4 364.3L873.5 363.8L875.5 363.4L877.7 363.1L880.0 362.8L882.2 362.5L884.5 362.3L886.6 362.1L888.6 361.9L890.4 361.7L891.8 361.5L893.0 361.3A8.5 8.5 0 0 0 889.0 344.7L887.9 345.1L886.5 345.5L884.9 346.2L883.0 346.9L881.0 347.7L878.9 348.5L876.8 349.3L874.6 350.0L872.5 350.6L870.5 351.2L868.5 351.7L866.4 352.3L864.1 353.1L861.8 353.9L859.6 354.7L857.5 355.4L855.5 356.2L853.7 356.8L852.2 357.3L851.0 357.6A4.5 4.5 0 0 0 853.0 366.4Z" fill="#fdea1c" stroke="#fdea1c" stroke-width="0.6" stroke-linejoin="round" />
<path d="M375.3 380.8L376.5 380.2L378.0 379.3L379.7 378.3L381.5 377.3L383.3 376.2L385.3 375.2L387.2 374.2L389.0 373.3L390.7 372.7L392.1 372.2L393.5 371.9L395.1 371.6L396.7 371.4L398.4 371.3L400.1 371.2L401.9 371.2L403.7 371.2L405.6 371.3L407.5 371.4L409.5 371.5L411.4 371.6L413.2 371.8L415.1 372.0L417.0 372.3L418.9 372.6L420.8 372.9L422.7 373.3L424.6 373.7L426.5 374.2L428.3 374.7L430.0 375.2L431.8 375.8L433.6 376.5L435.5 377.3L437.4 378.1L439.3 378.9L441.3 379.8L443.3 380.7L445.4 381.6L447.5 382.4L449.5 383.2L451.5 384.0L453.5 384.8L455.5 385.6L457.5 386.3L459.4 387.1L461.4 387.9L463.4 388.7L465.4 389.5L467.4 390.4L469.5 391.3L471.8 392.3L474.3 393.4L476.8 394.5L479.2 395.6L481.6 396.6L483.8 397.6L485.8 398.5L487.5 399.2L488.7 399.8A8.0 8.0 0 0 0 495.3 385.2L494.0 384.6L492.3 383.9L490.4 383.0L488.1 382.0L485.8 380.9L483.3 379.8L480.7 378.7L478.2 377.6L475.8 376.6L473.6 375.6L471.5 374.7L469.4 373.9L467.4 373.1L465.3 372.3L463.3 371.5L461.4 370.7L459.4 369.9L457.4 369.1L455.4 368.4L453.5 367.6L451.6 366.8L449.7 366.0L447.7 365.1L445.7 364.3L443.7 363.4L441.6 362.5L439.4 361.6L437.3 360.8L435.0 360.0L432.7 359.3L430.5 358.7L428.3 358.2L426.0 357.7L423.8 357.2L421.6 356.8L419.4 356.4L417.1 356.1L414.9 355.9L412.7 355.7L410.5 355.5L408.4 355.4L406.3 355.3L404.1 355.2L401.9 355.2L399.6 355.2L397.4 355.3L395.1 355.5L392.7 355.8L390.4 356.2L387.9 356.8L385.4 357.6L382.8 358.5L380.3 359.6L377.9 360.7L375.7 361.9L373.5 363.0L371.6 364.1L370.0 365.0L368.7 365.7L367.7 366.2A8.2 8.2 0 0 0 375.3 380.8Z" fill="#c51d3c" stroke="#c51d3c" stroke-width="0.6" stroke-linejoin="round" />
<g clip-path="url(#c1)">
<path d="M476.5 617.0 Q487.9 469.0 495.8 321.0 C495.8 314.5 500.8 313.0 511.0 313.0 C521.2 313.0 526.2 314.5 526.2 321.0 Q520.0 469.0 517.5 617.0 C517.5 628.0 508.5 631.0 497.0 631.0 C485.5 631.0 476.5 628.0 476.5 617.0 Z" fill="#3f57ab" stroke="#212b82" stroke-width="3.4" stroke-linejoin="round"/>
<path d="M509.0 325.0 Q501.5 472.0 494.0 609.0" fill="none" stroke="#6079c8" stroke-opacity="0.32" stroke-width="9" stroke-linecap="round" filter="url(#bl)"/>
<path d="M478.0 615.0 Q497.0 619.0 516.0 615.0 L516.0 617.0 C516.0 627.0 507.0 629.5 497.0 629.5 C487.0 629.5 478.0 627.0 478.0 617.0 Z" fill="#3b50b3"/>
<path d="M478.0 615.0 Q497.0 619.0 516.0 615.0" fill="none" stroke="#212b82" stroke-width="1.6" stroke-opacity="0.8"/>
<ellipse cx="511.0" cy="317.8" rx="10.2" ry="1.2" fill="#dfe6f7" fill-opacity="0.6"/>
</g>
<path d="M596.4 381.7L597.2 381.0L598.3 380.2L599.3 379.3L600.5 378.3L601.6 377.4L602.8 376.5L604.0 375.6L605.1 374.9L606.1 374.3L606.9 373.9L607.9 373.6L609.1 373.3L610.3 373.0L611.6 372.7L612.9 372.5L614.3 372.3L615.8 372.2L617.3 372.1L618.9 372.0L620.5 372.0L622.2 372.0L623.8 372.0L625.5 372.1L627.1 372.2L628.7 372.4L630.5 372.6L632.3 372.9L634.2 373.2L636.3 373.7L638.5 374.2L641.0 374.9L643.7 375.7L646.5 376.6L649.5 377.5L652.5 378.5L655.6 379.6L658.8 380.8L661.9 381.9L664.9 383.2L667.9 384.4L670.8 385.6L673.8 387.0L676.9 388.5L680.0 390.0L683.1 391.6L686.1 393.1L689.1 394.7L691.9 396.2L694.7 397.7L697.2 399.0L699.5 400.3L701.8 401.6L704.0 402.9L706.1 404.2L708.1 405.5L710.0 406.7L711.8 407.8L713.3 408.7L714.7 409.6L715.8 410.3A8.0 8.0 0 0 0 724.2 396.7L723.2 396.1L721.9 395.2L720.3 394.3L718.6 393.1L716.6 391.9L714.5 390.6L712.2 389.2L709.8 387.8L707.4 386.4L704.8 385.0L702.2 383.6L699.5 382.1L696.6 380.5L693.5 378.9L690.4 377.3L687.1 375.7L683.9 374.1L680.6 372.5L677.3 371.0L674.1 369.6L670.9 368.3L667.7 367.0L664.3 365.8L661.0 364.6L657.7 363.4L654.5 362.3L651.3 361.3L648.2 360.3L645.3 359.5L642.5 358.8L639.9 358.1L637.4 357.6L635.0 357.1L632.7 356.8L630.5 356.5L628.4 356.3L626.4 356.1L624.4 356.1L622.4 356.0L620.5 356.0L618.5 356.0L616.5 356.1L614.5 356.2L612.6 356.4L610.6 356.6L608.7 357.0L606.8 357.3L604.9 357.8L603.0 358.4L601.1 359.1L599.0 360.0L597.0 361.0L595.1 362.1L593.4 363.3L591.8 364.4L590.4 365.5L589.1 366.5L588.0 367.3L587.2 367.9L586.6 368.3A8.2 8.2 0 0 0 596.4 381.7Z" fill="#c51d3c" stroke="#c51d3c" stroke-width="0.6" stroke-linejoin="round" />
<g clip-path="url(#c2)">
<path d="M753.0 618.0 Q735.7 469.5 702.8 321.0 C702.8 314.5 707.8 313.0 718.0 313.0 C728.2 313.0 733.2 314.5 733.2 321.0 Q767.8 469.5 794.0 618.0 C794.0 629.0 785.0 632.0 773.5 632.0 C762.0 632.0 753.0 629.0 753.0 618.0 Z" fill="#3f57ab" stroke="#212b82" stroke-width="3.4" stroke-linejoin="round"/>
<path d="M716.0 325.0 Q749.2 472.5 770.5 610.0" fill="none" stroke="#6079c8" stroke-opacity="0.32" stroke-width="9" stroke-linecap="round" filter="url(#bl)"/>
<path d="M754.5 616.0 Q773.5 620.0 792.5 616.0 L792.5 618.0 C792.5 628.0 783.5 630.5 773.5 630.5 C763.5 630.5 754.5 628.0 754.5 618.0 Z" fill="#3b50b3"/>
<path d="M754.5 616.0 Q773.5 620.0 792.5 616.0" fill="none" stroke="#212b82" stroke-width="1.6" stroke-opacity="0.8"/>
<ellipse cx="718.0" cy="317.8" rx="10.2" ry="1.2" fill="#dfe6f7" fill-opacity="0.6"/>
</g>
<g clip-path="url(#c3)">
<path d="M753.0 618.0 Q735.7 469.5 702.8 321.0 C702.8 314.5 707.8 313.0 718.0 313.0 C728.2 313.0 733.2 314.5 733.2 321.0 Q767.8 469.5 794.0 618.0 C794.0 629.0 785.0 632.0 773.5 632.0 C762.0 632.0 753.0 629.0 753.0 618.0 Z" fill="#3f57ab" stroke="#212b82" stroke-width="3.4" stroke-linejoin="round"/>
<path d="M716.0 325.0 Q749.2 472.5 770.5 610.0" fill="none" stroke="#6079c8" stroke-opacity="0.32" stroke-width="9" stroke-linecap="round" filter="url(#bl)"/>
<path d="M754.5 616.0 Q773.5 620.0 792.5 616.0 L792.5 618.0 C792.5 628.0 783.5 630.5 773.5 630.5 C763.5 630.5 754.5 628.0 754.5 618.0 Z" fill="#3b50b3"/>
<path d="M754.5 616.0 Q773.5 620.0 792.5 616.0" fill="none" stroke="#212b82" stroke-width="1.6" stroke-opacity="0.8"/>
<ellipse cx="718.0" cy="317.8" rx="10.2" ry="1.2" fill="#dfe6f7" fill-opacity="0.6"/>
</g>
<path d="M812.8 381.2L813.7 380.6L814.8 379.9L816.0 379.0L817.2 378.1L818.5 377.2L819.8 376.3L821.1 375.5L822.3 374.8L823.5 374.2L824.5 373.8L825.7 373.5L827.1 373.1L828.6 372.8L830.1 372.5L831.6 372.2L833.2 372.0L834.9 371.9L836.5 371.8L838.2 371.8L839.9 371.7L841.6 371.8L843.4 371.9L845.2 372.0L846.9 372.2L848.7 372.4L850.6 372.7L852.4 373.0L854.2 373.4L855.9 373.9L857.7 374.4L859.4 375.0L861.0 375.7L862.8 376.4L864.6 377.3L866.5 378.3L868.5 379.4L870.5 380.4L872.6 381.6L874.9 382.7L877.2 383.8L879.5 384.9L882.1 386.0L884.8 387.3L887.5 388.6L890.2 389.9L892.8 391.1L895.2 392.3L897.3 393.3L899.1 394.1L900.5 394.8A8.5 8.5 0 0 0 907.5 379.2L906.0 378.6L904.2 377.8L902.0 376.9L899.5 375.9L896.9 374.8L894.1 373.7L891.4 372.5L888.7 371.4L886.1 370.3L883.8 369.2L881.8 368.3L879.8 367.3L877.7 366.3L875.7 365.3L873.6 364.2L871.4 363.2L869.2 362.2L867.0 361.3L864.7 360.4L862.3 359.6L860.0 358.9L857.7 358.4L855.4 357.9L853.2 357.4L850.9 357.1L848.7 356.8L846.5 356.6L844.3 356.4L842.2 356.3L840.1 356.3L838.0 356.3L835.9 356.3L833.7 356.4L831.6 356.6L829.5 356.9L827.5 357.2L825.4 357.6L823.4 358.0L821.5 358.6L819.5 359.2L817.3 360.0L815.3 360.9L813.3 362.0L811.5 363.0L809.8 364.1L808.2 365.1L806.9 366.0L805.7 366.8L804.8 367.3L804.2 367.8A8.0 8.0 0 0 0 812.8 381.2Z" fill="#c51d3c" stroke="#c51d3c" stroke-width="0.6" stroke-linejoin="round" />
<path d="M202.4 456.1L205.3 455.6L209.1 455.0L213.6 454.3L218.8 453.5L224.3 452.6L230.1 451.7L235.9 450.6L241.6 449.5L247.1 448.3L252.2 447.0L256.9 445.5L261.6 444.0L266.2 442.4L270.7 440.7L275.0 438.9L279.2 437.1L283.3 435.4L287.1 433.7L290.8 432.1L294.3 430.5L297.7 429.0L300.9 427.5L303.9 426.0L306.7 424.6L309.3 423.2L311.8 421.8L314.2 420.6L316.6 419.3L319.0 418.1L321.4 417.0L324.0 415.9L326.6 414.8L329.3 413.7L332.0 412.6L334.7 411.6L337.3 410.6L339.9 409.6L342.3 408.7L344.7 407.8L347.0 407.0L349.1 406.2L351.1 405.4L352.9 404.8L354.6 404.1L356.2 403.6L357.8 403.0L359.4 402.6L360.9 402.1L362.4 401.7L364.1 401.2L365.7 400.9L367.3 400.5L368.9 400.3L370.5 400.0L372.2 399.8L373.9 399.6L375.6 399.3L377.4 399.1L379.3 398.9L381.1 398.7L383.1 398.4L385.1 398.2L387.2 397.9L389.2 397.7L391.2 397.5L393.2 397.3L395.0 397.2L396.8 397.1L398.4 397.0L399.9 397.0L401.5 397.1L403.0 397.2L404.5 397.4L405.8 397.6L407.0 397.9L408.0 398.3L408.9 398.6L409.5 398.9L410.0 399.1L410.3 399.3L410.7 399.6L410.9 399.9L410.9 400.3L410.8 400.5L410.6 400.8L410.4 401.0L410.3 401.3L410.2 401.7L410.2 402.2L410.3 402.8L410.4 403.5L410.5 404.5L410.5 405.9L410.5 407.6L410.3 409.4L410.2 411.5L410.0 413.6L409.9 415.7L409.8 417.9L409.8 419.9L409.7 421.8L409.7 423.6L409.7 425.5L409.7 427.4L409.7 429.3L409.6 431.1L409.6 432.7L409.6 434.2L409.5 435.5L409.5 436.6A12.5 12.5 0 0 0 434.5 437.4L434.5 436.5L434.6 435.2L434.7 433.8L434.8 432.1L434.9 430.2L435.0 428.2L435.1 426.2L435.2 424.1L435.2 422.0L435.2 420.1L435.2 418.3L435.2 416.4L435.2 414.2L435.2 412.0L435.1 409.6L435.0 407.2L434.8 404.8L434.6 402.3L434.2 399.7L433.7 397.2L433.0 395.0L432.1 393.0L431.0 391.0L429.7 389.2L428.2 387.6L426.6 386.1L424.9 384.8L423.2 383.6L421.5 382.6L419.7 381.7L417.7 380.8L415.7 380.1L413.6 379.6L411.6 379.3L409.7 379.1L407.7 379.0L405.8 379.0L403.9 379.0L402.0 379.0L400.1 379.0L398.0 379.0L395.8 379.1L393.6 379.3L391.4 379.6L389.2 379.8L387.0 380.1L384.8 380.5L382.8 380.8L380.8 381.1L378.9 381.3L377.0 381.6L375.1 381.8L373.3 382.1L371.4 382.4L369.6 382.7L367.7 383.1L365.8 383.4L363.9 383.8L361.9 384.3L359.9 384.8L358.0 385.3L356.2 385.8L354.3 386.3L352.5 386.9L350.8 387.5L348.9 388.1L347.1 388.8L345.2 389.5L343.1 390.2L341.0 391.0L338.7 391.9L336.3 392.8L333.8 393.8L331.2 394.9L328.5 396.0L325.7 397.1L322.9 398.3L320.1 399.5L317.4 400.7L314.6 402.0L311.8 403.3L309.2 404.6L306.6 405.9L304.1 407.3L301.6 408.6L299.0 410.0L296.4 411.3L293.7 412.7L290.8 414.0L287.7 415.5L284.2 417.0L280.5 418.6L276.7 420.3L272.8 422.0L268.7 423.7L264.6 425.3L260.5 426.9L256.3 428.4L252.0 429.8L247.8 431.0L243.3 432.2L238.2 433.3L232.8 434.4L227.2 435.4L221.6 436.4L216.2 437.2L211.1 438.0L206.5 438.7L202.6 439.4L199.6 439.9A8.2 8.2 0 0 0 202.4 456.1Z" fill="#1c9650" stroke="#1c9650" stroke-width="0.6" stroke-linejoin="round" />
<g clip-path="url(#c4)">
<path d="M200.5 619.0 Q244.9 470.0 291.8 321.0 C291.8 314.5 296.8 313.0 307.0 313.0 C317.2 313.0 322.2 314.5 322.2 321.0 Q277.1 470.0 241.5 619.0 C241.5 630.0 232.5 633.0 221.0 633.0 C209.5 633.0 200.5 630.0 200.5 619.0 Z" fill="#3f57ab" stroke="#212b82" stroke-width="3.4" stroke-linejoin="round"/>
<path d="M305.0 325.0 Q258.5 473.0 218.0 611.0" fill="none" stroke="#6079c8" stroke-opacity="0.32" stroke-width="9" stroke-linecap="round" filter="url(#bl)"/>
<path d="M202.0 617.0 Q221.0 621.0 240.0 617.0 L240.0 619.0 C240.0 629.0 231.0 631.5 221.0 631.5 C211.0 631.5 202.0 629.0 202.0 619.0 Z" fill="#3b50b3"/>
<path d="M202.0 617.0 Q221.0 621.0 240.0 617.0" fill="none" stroke="#212b82" stroke-width="1.6" stroke-opacity="0.8"/>
<ellipse cx="307.0" cy="317.8" rx="10.2" ry="1.2" fill="#dfe6f7" fill-opacity="0.6"/>
</g>
<path d="M533.2 411.0L533.8 411.0L534.3 411.3L535.1 411.7L536.1 412.2L537.4 412.7L538.8 413.1L540.5 413.4L542.4 413.5L544.6 413.3L546.9 412.7L549.4 412.0L552.2 411.1L555.2 410.2L558.4 409.2L561.7 408.1L565.0 407.1L568.4 406.0L571.6 405.0L574.7 404.0L577.5 403.1L580.3 402.2L583.1 401.3L585.8 400.4L588.4 399.6L591.0 398.8L593.5 398.1L595.9 397.4L598.4 396.8L600.8 396.3L603.3 395.9L605.8 395.5L608.4 395.2L611.0 395.0L613.7 394.8L616.4 394.7L619.0 394.7L621.6 394.7L624.0 394.7L626.2 394.8L628.3 395.0L630.3 395.2L632.2 395.4L633.8 395.7L635.3 396.1L636.6 396.4L637.7 396.8L638.6 397.2L639.3 397.6L640.0 398.1L640.5 398.5L641.0 399.0L641.4 399.7L641.7 400.6L642.0 401.7L642.3 402.9L642.6 404.3L642.8 405.7L643.1 407.3L643.4 409.0L643.8 410.5L644.1 411.9L644.3 413.4L644.5 415.3L644.7 417.3L644.8 419.5L644.9 421.8L645.0 424.2L645.1 426.6L645.3 429.0L645.6 431.4L646.0 433.7L646.7 435.8L647.4 437.8L648.3 439.7L649.1 441.5L650.0 443.1L650.8 444.5L651.4 445.8L651.9 446.8L652.2 447.7A7.5 7.5 0 0 0 666.8 444.3L666.7 443.3L666.6 442.0L666.6 440.6L666.6 439.0L666.6 437.3L666.7 435.5L666.7 433.7L666.7 431.9L666.6 430.2L666.4 428.6L666.2 427.0L666.1 425.2L666.0 423.1L665.9 420.9L665.8 418.5L665.6 416.0L665.5 413.4L665.2 410.8L664.8 408.1L664.2 405.5L663.5 403.2L662.7 401.2L661.8 399.1L660.8 397.0L659.6 395.0L658.2 393.0L656.8 391.0L655.2 389.1L653.4 387.2L651.5 385.5L649.5 384.0L647.3 382.8L645.2 381.8L643.0 381.0L640.8 380.5L638.6 380.0L636.4 379.7L634.2 379.5L632.0 379.2L629.7 379.0L627.2 378.8L624.5 378.7L621.7 378.7L618.8 378.7L615.9 378.7L612.8 378.9L609.8 379.1L606.8 379.3L603.7 379.7L600.7 380.1L597.8 380.6L594.9 381.2L592.0 381.9L589.2 382.7L586.4 383.5L583.6 384.3L580.9 385.2L578.1 386.1L575.3 387.0L572.5 387.9L569.4 389.0L566.2 390.3L562.9 391.7L559.7 393.1L556.5 394.6L553.3 396.1L550.4 397.4L547.6 398.6L545.2 399.6L543.1 400.3L541.5 400.8L540.1 401.4L538.9 402.0L537.8 402.6L536.9 403.2L536.0 403.7L535.2 404.2L534.4 404.6L533.5 404.9L532.8 405.0A3.0 3.0 0 0 0 533.2 411.0Z" fill="#1c9650" stroke="#1c9650" stroke-width="0.6" stroke-linejoin="round" />
<path d="M766.7 409.4L767.1 409.4L767.5 409.6L768.1 409.8L768.9 410.1L769.8 410.4L770.9 410.6L772.3 410.7L773.8 410.6L775.7 410.3L777.8 409.7L780.4 408.9L783.4 408.0L786.8 407.0L790.4 406.0L794.2 404.9L798.0 403.8L801.8 402.7L805.5 401.7L808.9 400.8L812.0 400.0L814.9 399.2L817.8 398.6L820.7 398.0L823.6 397.4L826.4 396.9L829.1 396.5L831.7 396.1L834.2 395.8L836.6 395.5L838.9 395.2L840.9 395.0L842.8 394.8L844.5 394.7L846.1 394.6L847.5 394.6L848.8 394.6L850.0 394.6L851.1 394.7L852.3 394.9L853.5 395.1L854.6 395.4L855.8 395.7L856.8 396.1L857.9 396.6L858.9 397.1L859.9 397.7L860.8 398.2L861.8 398.9L862.7 399.5L863.7 400.2L864.6 400.9L865.4 401.7L866.2 402.6L866.9 403.5L867.5 404.4L868.1 405.4L868.7 406.3L869.2 407.3L869.7 408.2L870.1 409.0L870.5 409.8L870.7 410.7L870.9 411.8L871.1 413.2L871.2 414.7L871.4 416.4L871.7 418.2L872.0 420.1L872.5 422.2L873.1 424.2L873.8 425.9L874.4 427.6L875.2 429.4L875.9 431.2L876.7 433.0L877.6 434.9L878.5 436.8L879.5 438.7L880.7 440.7L881.9 442.5L883.2 444.2L884.6 445.7L886.1 447.0L887.7 448.1L889.2 449.1L890.8 449.9L892.3 450.7L893.8 451.4L895.3 452.0L896.8 452.7L898.4 453.4L900.0 453.9L901.7 454.3L903.3 454.6L904.9 454.9L906.4 455.0L907.9 455.2L909.4 455.3L910.8 455.4L912.3 455.5L914.1 455.6L916.0 455.7L918.0 455.7L920.0 455.7L921.9 455.7L923.8 455.6L925.5 455.6L927.0 455.5L928.2 455.5L929.1 455.5A8.5 8.5 0 0 0 928.9 438.5L927.9 438.5L926.6 438.5L925.1 438.6L923.4 438.6L921.6 438.7L919.9 438.7L918.1 438.7L916.4 438.7L915.0 438.6L913.7 438.5L912.4 438.4L911.1 438.2L909.9 438.1L908.8 437.9L907.9 437.6L907.0 437.4L906.2 437.1L905.5 436.9L904.9 436.6L904.2 436.3L903.5 435.9L902.7 435.4L902.1 434.8L901.6 434.2L901.1 433.6L900.7 433.0L900.3 432.4L899.9 431.7L899.5 431.1L899.1 430.5L898.7 429.8L898.2 428.9L897.7 427.7L897.2 426.4L896.6 425.0L896.1 423.4L895.6 421.7L895.0 420.1L894.4 418.3L893.9 416.8L893.4 415.5L892.9 414.3L892.4 412.9L891.8 411.4L891.1 409.7L890.4 407.9L889.7 406.0L888.9 404.1L887.9 402.0L886.9 400.0L885.7 398.2L884.6 396.5L883.3 395.0L881.9 393.6L880.5 392.3L879.1 391.1L877.7 390.0L876.2 388.9L874.8 387.8L873.3 386.8L871.9 385.8L870.4 384.9L868.8 384.0L867.2 383.2L865.5 382.5L863.8 381.9L862.0 381.3L860.2 380.8L858.4 380.3L856.5 379.9L854.7 379.6L852.9 379.3L851.0 379.2L849.2 379.1L847.3 379.1L845.5 379.1L843.5 379.2L841.5 379.4L839.4 379.6L837.1 379.8L834.7 380.1L832.2 380.4L829.5 380.8L826.7 381.2L823.8 381.6L820.8 382.2L817.7 382.8L814.5 383.4L811.3 384.2L808.0 385.0L804.5 386.0L800.9 387.3L797.1 388.8L793.3 390.3L789.6 391.9L785.9 393.5L782.5 395.0L779.3 396.3L776.5 397.5L774.2 398.3L772.3 399.0L770.8 399.6L769.6 400.3L768.7 401.0L768.0 401.6L767.4 402.1L766.9 402.6L766.4 403.0L765.9 403.4L765.3 403.6A3.0 3.0 0 0 0 766.7 409.4Z" fill="#1c9650" stroke="#1c9650" stroke-width="0.6" stroke-linejoin="round" />
<path d="M208.6 445.2L210.1 444.3L212.1 443.1L214.4 441.8L217.0 440.3L219.7 438.7L222.5 437.1L225.4 435.5L228.2 434.0L230.8 432.7L233.3 431.6L235.7 430.5L238.2 429.5L240.7 428.6L243.3 427.7L245.8 426.8L248.4 426.0L251.0 425.2L253.5 424.5L256.1 423.9L258.7 423.3L261.3 422.8L263.9 422.2L266.4 421.8L268.9 421.3L271.4 420.9L273.9 420.6L276.3 420.4L278.8 420.2L281.2 420.2L283.7 420.2L286.2 420.4L288.7 420.6L291.2 420.9L293.7 421.3L296.2 421.7L298.8 422.3L301.4 422.9L304.0 423.6L306.7 424.4L309.5 425.3L312.3 426.3L315.2 427.5L318.2 428.8L321.3 430.3L324.5 431.8L327.7 433.4L330.9 435.0L334.1 436.7L337.4 438.3L340.5 439.9L343.7 441.5L347.0 443.3L350.4 445.1L353.9 447.0L357.3 448.9L360.5 450.7L363.5 452.3L366.1 453.8L368.4 455.1L370.2 456.0A8.0 8.0 0 0 0 377.8 442.0L376.0 441.0L373.8 439.8L371.1 438.4L368.0 436.8L364.7 435.0L361.3 433.2L357.8 431.3L354.2 429.5L350.8 427.7L347.5 426.1L344.4 424.5L341.2 422.9L337.9 421.2L334.6 419.5L331.3 417.9L327.9 416.3L324.5 414.7L321.2 413.2L317.8 411.9L314.5 410.7L311.4 409.6L308.3 408.7L305.2 407.9L302.2 407.1L299.2 406.5L296.2 406.0L293.2 405.5L290.3 405.2L287.3 404.9L284.3 404.8L281.3 404.7L278.3 404.7L275.3 404.8L272.4 405.0L269.5 405.3L266.6 405.7L263.7 406.1L260.9 406.6L258.1 407.1L255.3 407.7L252.5 408.3L249.6 409.0L246.7 409.7L243.9 410.5L241.0 411.3L238.1 412.2L235.2 413.2L232.4 414.2L229.6 415.3L226.7 416.4L223.7 417.8L220.6 419.3L217.5 421.0L214.4 422.7L211.4 424.4L208.6 426.0L206.0 427.6L203.8 428.9L201.9 430.0L200.4 430.8A8.2 8.2 0 0 0 208.6 445.2Z" fill="#8f2390" stroke="#8f2390" stroke-width="0.6" stroke-linejoin="round" />
<g clip-path="url(#c5)">
<path d="M337.5 619.0 Q368.4 470.0 393.8 321.0 C393.8 314.5 398.8 313.0 409.0 313.0 C419.2 313.0 424.2 314.5 424.2 321.0 Q400.6 470.0 378.5 619.0 C378.5 630.0 369.5 633.0 358.0 633.0 C346.5 633.0 337.5 630.0 337.5 619.0 Z" fill="#3f57ab" stroke="#212b82" stroke-width="3.4" stroke-linejoin="round"/>
<path d="M407.0 325.0 Q382.0 473.0 355.0 611.0" fill="none" stroke="#6079c8" stroke-opacity="0.32" stroke-width="9" stroke-linecap="round" filter="url(#bl)"/>
<path d="M339.0 617.0 Q358.0 621.0 377.0 617.0 L377.0 619.0 C377.0 629.0 368.0 631.5 358.0 631.5 C348.0 631.5 339.0 629.0 339.0 619.0 Z" fill="#3b50b3"/>
<path d="M339.0 617.0 Q358.0 621.0 377.0 617.0" fill="none" stroke="#212b82" stroke-width="1.6" stroke-opacity="0.8"/>
</g>
<path d="M489.5 454.9L489.5 453.1L489.4 450.8L489.3 448.0L489.3 445.0L489.2 441.9L489.1 438.7L489.1 435.7L489.2 433.0L489.3 430.8L489.4 429.3L489.5 428.4L489.6 427.8L489.5 427.5L489.3 427.5L489.0 427.5L488.7 427.5L488.6 427.4L488.8 427.0L489.2 426.4L489.8 425.8L490.2 425.5L490.3 425.3L490.4 425.1L490.5 424.9L490.7 424.7L491.0 424.4L491.5 424.2L492.2 423.9L493.2 423.6L494.3 423.4L495.6 423.2L496.9 423.0L498.3 422.7L499.8 422.6L501.3 422.4L502.9 422.2L504.7 422.2L506.5 422.1L508.4 422.1L510.5 422.2L512.9 422.4L515.5 422.7L518.3 423.0L521.3 423.4L524.3 423.8L527.4 424.3L530.3 424.8L533.2 425.3L535.9 425.8L538.3 426.3L540.4 426.8L542.4 427.4L544.3 428.0L546.1 428.6L547.8 429.2L549.5 429.9L551.2 430.6L552.9 431.4L554.7 432.2L556.6 433.0L558.3 433.8L560.0 434.7L561.7 435.6L563.4 436.6L565.2 437.7L567.2 438.8L569.2 440.0L571.4 441.3L573.8 442.6L576.3 443.9L579.1 445.2L582.2 446.7L585.5 448.3L588.9 449.9L592.3 451.4L595.6 453.0L598.7 454.4L601.5 455.6L603.8 456.7L605.5 457.5A8.2 8.2 0 0 0 612.5 442.5L610.7 441.7L608.3 440.6L605.6 439.4L602.5 437.9L599.2 436.4L595.8 434.9L592.4 433.3L589.2 431.8L586.3 430.4L583.7 429.1L581.5 428.0L579.4 426.9L577.5 425.7L575.5 424.6L573.6 423.5L571.7 422.4L569.8 421.2L567.7 420.1L565.6 419.0L563.4 418.0L561.4 417.1L559.4 416.2L557.4 415.4L555.4 414.7L553.3 413.9L551.2 413.2L549.0 412.6L546.7 411.9L544.3 411.3L541.7 410.7L539.0 410.1L536.0 409.6L532.9 409.1L529.7 408.6L526.4 408.2L523.2 407.8L520.0 407.5L517.0 407.2L514.1 407.0L511.5 406.8L509.0 406.6L506.6 406.6L504.4 406.6L502.2 406.6L500.2 406.7L498.3 406.8L496.4 407.0L494.8 407.2L493.2 407.4L491.7 407.6L490.3 407.8L488.9 408.0L487.5 408.2L486.1 408.5L484.7 408.8L483.3 409.2L481.8 409.8L480.5 410.5L479.2 411.3L478.2 412.2L477.4 412.8L476.6 413.3L475.5 414.1L474.2 415.2L472.9 416.5L471.6 418.2L470.5 420.1L469.7 422.1L469.0 424.3L468.6 426.7L468.3 429.4L468.2 432.4L468.1 435.6L468.1 438.9L468.2 442.3L468.3 445.5L468.3 448.6L468.4 451.3L468.5 453.5L468.5 455.1A10.5 10.5 0 0 0 489.5 454.9Z" fill="#8f2390" stroke="#8f2390" stroke-width="0.6" stroke-linejoin="round" />
<g clip-path="url(#c6)">
<path d="M615.0 618.0 Q615.0 469.8 601.2 321.5 C601.2 315.0 606.2 313.5 616.5 313.5 C626.8 313.5 631.8 315.0 631.8 321.5 Q647.0 469.8 656.0 618.0 C656.0 629.0 647.0 632.0 635.5 632.0 C624.0 632.0 615.0 629.0 615.0 618.0 Z" fill="#3f57ab" stroke="#212b82" stroke-width="3.4" stroke-linejoin="round"/>
<path d="M614.5 325.5 Q628.5 472.8 632.5 610.0" fill="none" stroke="#6079c8" stroke-opacity="0.32" stroke-width="9" stroke-linecap="round" filter="url(#bl)"/>
<path d="M616.5 616.0 Q635.5 620.0 654.5 616.0 L654.5 618.0 C654.5 628.0 645.5 630.5 635.5 630.5 C625.5 630.5 616.5 628.0 616.5 618.0 Z" fill="#3b50b3"/>
<path d="M616.5 616.0 Q635.5 620.0 654.5 616.0" fill="none" stroke="#212b82" stroke-width="1.6" stroke-opacity="0.8"/>
</g>
<path d="M720.5 454.8L720.5 453.1L720.4 450.7L720.3 448.0L720.2 445.0L720.1 441.9L720.1 438.8L720.1 435.8L720.1 433.1L720.2 431.0L720.4 429.5L720.5 428.5L720.6 427.7L720.6 427.2L720.6 426.8L720.5 426.6L720.4 426.3L720.4 426.0L720.6 425.6L721.0 425.1L721.4 424.7L721.6 424.5L721.6 424.4L721.8 424.2L722.2 424.0L722.7 423.7L723.5 423.4L724.4 423.1L725.5 422.9L726.7 422.6L728.1 422.4L729.4 422.2L730.7 422.0L731.9 421.9L732.9 421.7L734.0 421.6L735.1 421.6L736.3 421.6L737.6 421.6L739.1 421.7L740.9 421.9L743.1 422.2L745.5 422.6L748.0 423.1L750.8 423.6L753.6 424.2L756.5 424.9L759.4 425.6L762.3 426.4L765.2 427.2L768.0 428.1L770.7 429.0L773.5 430.1L776.4 431.3L779.3 432.5L782.2 433.8L785.2 435.1L788.2 436.5L791.1 437.9L794.1 439.3L797.0 440.7L799.9 442.1L802.8 443.6L805.8 445.1L808.8 446.7L811.7 448.3L814.6 449.8L817.5 451.4L820.2 452.9L822.8 454.3L825.3 455.6L827.6 456.8L829.8 458.0L832.0 459.1L834.1 460.2L836.0 461.3L837.9 462.2L839.5 463.1L841.0 463.9L842.2 464.5L843.3 465.1A8.0 8.0 0 0 0 850.7 450.9L849.7 450.4L848.5 449.7L847.0 448.9L845.3 448.1L843.5 447.1L841.6 446.1L839.5 445.0L837.3 443.8L835.0 442.6L832.7 441.4L830.4 440.2L827.8 438.8L825.1 437.3L822.2 435.8L819.3 434.2L816.3 432.6L813.2 430.9L810.1 429.3L807.0 427.8L804.0 426.3L801.0 424.9L798.0 423.4L795.0 422.0L791.9 420.6L788.8 419.2L785.6 417.8L782.5 416.5L779.3 415.2L776.2 414.0L773.0 412.9L769.9 411.9L766.6 411.0L763.4 410.1L760.2 409.3L757.0 408.6L753.9 407.9L751.0 407.4L748.2 406.9L745.5 406.4L743.1 406.1L740.7 405.8L738.5 405.6L736.5 405.6L734.6 405.6L732.8 405.7L731.2 405.8L729.7 406.0L728.4 406.2L727.1 406.4L725.9 406.6L724.7 406.7L723.4 406.8L722.1 406.8L720.7 406.9L719.1 407.1L717.5 407.3L715.8 407.7L714.0 408.3L712.2 409.2L710.6 410.3L709.4 411.2L708.2 412.1L706.9 413.2L705.5 414.4L704.1 415.9L702.9 417.7L701.8 419.6L700.8 421.7L700.1 424.0L699.6 426.5L699.3 429.3L699.1 432.4L699.1 435.7L699.1 439.0L699.1 442.4L699.2 445.7L699.3 448.7L699.4 451.4L699.5 453.6L699.5 455.2A10.5 10.5 0 0 0 720.5 454.8Z" fill="#8f2390" stroke="#8f2390" stroke-width="0.6" stroke-linejoin="round" />
<g clip-path="url(#c7)">
<path d="M892.0 619.0 Q855.5 471.0 807.2 323.0 C807.2 316.5 812.2 315.0 822.5 315.0 C832.8 315.0 837.8 316.5 837.8 323.0 Q887.5 471.0 933.0 619.0 C933.0 630.0 924.0 633.0 912.5 633.0 C901.0 633.0 892.0 630.0 892.0 619.0 Z" fill="#3f57ab" stroke="#212b82" stroke-width="3.4" stroke-linejoin="round"/>
<path d="M820.5 327.0 Q869.0 474.0 909.5 611.0" fill="none" stroke="#6079c8" stroke-opacity="0.32" stroke-width="9" stroke-linecap="round" filter="url(#bl)"/>
<path d="M893.5 617.0 Q912.5 621.0 931.5 617.0 L931.5 619.0 C931.5 629.0 922.5 631.5 912.5 631.5 C902.5 631.5 893.5 629.0 893.5 619.0 Z" fill="#3b50b3"/>
<path d="M893.5 617.0 Q912.5 621.0 931.5 617.0" fill="none" stroke="#212b82" stroke-width="1.6" stroke-opacity="0.8"/>
</g>
<g clip-path="url(#c8)">
<path d="M892.0 619.0 Q855.5 471.0 807.2 323.0 C807.2 316.5 812.2 315.0 822.5 315.0 C832.8 315.0 837.8 316.5 837.8 323.0 Q887.5 471.0 933.0 619.0 C933.0 630.0 924.0 633.0 912.5 633.0 C901.0 633.0 892.0 630.0 892.0 619.0 Z" fill="#3f57ab" stroke="#212b82" stroke-width="3.4" stroke-linejoin="round"/>
<path d="M820.5 327.0 Q869.0 474.0 909.5 611.0" fill="none" stroke="#6079c8" stroke-opacity="0.32" stroke-width="9" stroke-linecap="round" filter="url(#bl)"/>
<path d="M893.5 617.0 Q912.5 621.0 931.5 617.0 L931.5 619.0 C931.5 629.0 922.5 631.5 912.5 631.5 C902.5 631.5 893.5 629.0 893.5 619.0 Z" fill="#3b50b3"/>
<path d="M893.5 617.0 Q912.5 621.0 931.5 617.0" fill="none" stroke="#212b82" stroke-width="1.6" stroke-opacity="0.8"/>
</g>
<path d="M201.0 475.2L202.3 474.8L203.9 474.3L205.8 473.8L207.9 473.2L210.2 472.6L212.6 471.9L215.1 471.2L217.7 470.5L220.3 469.9L222.8 469.2L225.6 468.5L228.5 467.7L231.5 466.8L234.5 465.9L237.6 465.0L240.7 464.2L243.7 463.4L246.6 462.7L249.3 462.1L251.8 461.6L254.2 461.3L256.6 461.0L258.8 460.8L261.0 460.7L263.2 460.6L265.2 460.5L267.1 460.5L268.9 460.5L270.7 460.6L272.3 460.7L273.8 460.9L275.1 461.2L276.3 461.5L277.2 461.8L277.9 462.2L278.5 462.6L278.9 462.9L279.1 463.2L279.3 463.4L279.5 463.6L279.6 463.8L279.7 464.1L279.7 464.5L279.8 465.1L279.8 465.8L279.8 466.7L279.9 467.6L280.0 468.6L280.1 469.7L280.3 470.7L280.5 471.7L280.6 472.7L280.8 474.0L280.8 475.4L280.9 476.9L280.9 478.5L280.9 480.1L280.8 481.7L280.8 483.2L280.8 484.5L280.7 485.5L280.7 486.5L280.7 487.5L280.7 488.7L280.6 489.9L280.6 491.2L280.5 492.6L280.3 494.0L280.2 495.5L280.0 497.1L280.0 498.6L280.2 500.0L280.5 501.2L281.0 502.3L281.5 503.2L282.0 504.0L282.4 504.5L282.8 504.9L283.0 505.0L283.1 505.1A8.5 8.5 0 0 0 299.9 502.9L299.9 502.4L300.0 501.7L300.2 501.2L300.5 500.8L300.8 500.4L301.1 500.1L301.4 499.8L301.7 499.5L301.9 499.2L302.0 498.9L302.0 498.5L302.2 497.8L302.6 496.9L303.0 495.8L303.4 494.5L303.9 493.0L304.4 491.3L304.8 489.5L305.1 487.5L305.2 485.5L305.3 483.7L305.3 481.9L305.3 480.0L305.2 478.0L305.1 475.9L305.0 473.8L304.8 471.7L304.5 469.6L304.1 467.4L303.7 465.3L303.2 463.5L302.5 461.7L301.7 460.0L300.8 458.3L299.7 456.5L298.5 454.8L297.2 453.2L295.8 451.5L294.2 449.9L292.5 448.4L290.7 447.1L288.9 446.0L287.0 445.2L285.0 444.6L283.1 444.2L281.2 443.9L279.4 443.7L277.5 443.6L275.6 443.4L273.7 443.3L271.7 443.1L269.5 443.0L267.3 443.0L264.9 443.0L262.5 443.1L260.0 443.2L257.4 443.4L254.7 443.6L252.0 444.0L249.2 444.4L246.2 444.8L243.1 445.4L239.9 446.0L236.6 446.6L233.3 447.3L230.0 448.0L226.8 448.7L223.8 449.4L220.9 450.1L218.2 450.8L215.5 451.5L212.8 452.2L210.1 452.9L207.5 453.6L205.1 454.3L202.8 454.9L200.7 455.5L198.8 456.1L197.2 456.5L196.0 456.8A9.5 9.5 0 0 0 201.0 475.2Z" fill="#fdea1c" stroke="#fdea1c" stroke-width="0.6" stroke-linejoin="round" />
<path d="M393.9 485.2L395.2 484.9L396.7 484.5L398.6 484.1L400.6 483.6L402.8 483.1L405.2 482.6L407.8 482.0L410.4 481.4L413.2 480.7L415.9 480.0L418.9 479.3L422.2 478.7L425.8 478.0L429.6 477.4L433.5 476.8L437.5 476.2L441.4 475.5L445.3 474.8L449.0 474.0L452.5 473.2L455.9 472.2L459.1 471.2L462.1 470.1L465.0 469.1L467.8 468.1L470.4 467.2L472.9 466.3L475.4 465.5L477.7 464.9L480.2 464.3L482.7 463.7L485.4 463.2L488.1 462.7L490.8 462.3L493.4 461.9L496.0 461.6L498.5 461.3L500.9 461.1L503.0 461.0L505.0 461.0L506.8 461.1L508.5 461.2L510.0 461.5L511.4 461.8L512.6 462.1L513.7 462.5L514.6 463.0L515.4 463.4L516.2 463.8L516.9 464.2L517.4 464.6L517.9 465.1L518.1 465.6L518.3 466.2L518.5 466.7L518.6 467.4L518.7 468.1L518.8 468.8L519.0 469.6L519.3 470.3L519.4 470.9L519.6 471.9L519.7 473.2L519.7 474.7L519.8 476.5L519.8 478.4L519.8 480.4L519.8 482.4L519.9 484.5L520.1 486.5L520.3 488.1L520.6 489.6L521.0 491.1L521.4 492.5L521.9 494.0L522.3 495.3L522.7 496.7L523.1 498.0L523.4 499.3L523.6 500.6L523.9 501.9L524.3 503.0L524.9 504.0L525.5 504.9L526.1 505.7L526.7 506.4L527.3 506.9L527.8 507.3L528.1 507.6L528.2 507.9A8.5 8.5 0 0 0 544.8 504.1L544.8 503.6L544.8 503.0L545.0 502.4L545.3 501.7L545.6 501.0L545.9 500.3L546.1 499.6L546.3 498.9L546.4 498.2L546.4 497.4L546.3 496.5L546.4 495.4L546.4 494.2L546.6 492.9L546.8 491.5L546.9 490.1L547.0 488.5L547.1 486.8L547.1 485.1L546.9 483.5L546.7 482.0L546.5 480.4L546.3 478.5L546.0 476.4L545.7 474.2L545.3 471.8L544.8 469.4L544.3 466.9L543.6 464.3L542.7 461.7L541.8 459.5L540.7 457.6L539.4 455.7L537.9 453.9L536.4 452.3L534.6 450.8L532.8 449.4L531.0 448.1L529.1 446.9L527.1 445.8L525.2 444.9L523.1 444.0L521.0 443.4L518.8 442.9L516.6 442.5L514.4 442.3L512.1 442.1L509.8 442.0L507.4 442.0L505.0 442.0L502.4 442.0L499.7 442.2L496.8 442.4L493.9 442.7L491.0 443.0L487.9 443.5L484.9 444.0L481.9 444.5L478.9 445.1L475.8 445.7L472.8 446.5L469.8 447.4L466.9 448.3L464.1 449.3L461.4 450.2L458.6 451.2L455.9 452.2L453.2 453.1L450.4 454.0L447.5 454.8L444.3 455.7L440.9 456.7L437.3 457.8L433.5 458.9L429.7 460.0L425.9 461.1L422.2 462.2L418.6 463.2L415.2 464.2L412.1 465.0L409.1 465.8L406.3 466.7L403.6 467.6L401.0 468.6L398.7 469.5L396.5 470.3L394.5 471.1L392.8 471.8L391.3 472.4L390.1 472.8A6.5 6.5 0 0 0 393.9 485.2Z" fill="#fdea1c" stroke="#fdea1c" stroke-width="0.6" stroke-linejoin="round" />
<g clip-path="url(#c9)">
<path d="M337.5 619.0 Q368.4 470.0 393.8 321.0 C393.8 314.5 398.8 313.0 409.0 313.0 C419.2 313.0 424.2 314.5 424.2 321.0 Q400.6 470.0 378.5 619.0 C378.5 630.0 369.5 633.0 358.0 633.0 C346.5 633.0 337.5 630.0 337.5 619.0 Z" fill="#3f57ab" stroke="#212b82" stroke-width="3.4" stroke-linejoin="round"/>
<path d="M407.0 325.0 Q382.0 473.0 355.0 611.0" fill="none" stroke="#6079c8" stroke-opacity="0.32" stroke-width="9" stroke-linecap="round" filter="url(#bl)"/>
<path d="M339.0 617.0 Q358.0 621.0 377.0 617.0 L377.0 619.0 C377.0 629.0 368.0 631.5 358.0 631.5 C348.0 631.5 339.0 629.0 339.0 619.0 Z" fill="#3b50b3"/>
<path d="M339.0 617.0 Q358.0 621.0 377.0 617.0" fill="none" stroke="#212b82" stroke-width="1.6" stroke-opacity="0.8"/>
</g>
<path d="M638.0 487.2L638.9 487.0L639.9 486.9L641.1 486.8L642.4 486.7L643.9 486.6L645.5 486.5L647.2 486.3L649.1 486.0L651.1 485.7L653.1 485.3L655.4 484.8L658.1 484.3L661.0 483.7L664.2 483.2L667.6 482.6L671.0 482.0L674.4 481.4L677.7 480.7L680.9 479.9L684.0 479.0L686.8 478.1L689.5 477.0L691.9 476.0L694.1 474.9L696.2 473.9L698.0 472.9L699.7 472.0L701.3 471.2L702.9 470.5L704.5 469.9L706.4 469.2L708.3 468.5L710.3 467.9L712.2 467.2L714.2 466.6L716.2 466.0L718.2 465.4L720.1 464.9L722.1 464.5L724.0 464.0L725.9 463.6L727.9 463.2L729.8 462.9L731.6 462.5L733.4 462.2L735.1 462.0L736.9 461.8L738.6 461.6L740.2 461.5L741.9 461.5L743.7 461.6L745.5 461.7L747.4 461.9L749.3 462.1L751.1 462.4L752.8 462.8L754.5 463.2L756.0 463.6L757.4 464.0L758.6 464.4L759.8 464.9L760.9 465.5L761.9 466.1L762.7 466.7L763.5 467.4L764.2 468.0L764.7 468.7L765.2 469.3L765.7 469.9L766.1 470.4L766.3 470.9L766.6 471.4L766.8 472.2L767.1 473.2L767.4 474.5L767.7 475.9L768.1 477.6L768.5 479.4L768.9 481.3L769.5 483.2L770.0 484.9L770.5 486.6L771.0 488.4L771.6 490.3L772.2 492.3L772.8 494.2L773.3 496.2L773.9 498.1L774.5 499.9L775.1 501.7L775.9 503.4L776.8 504.9L777.8 506.2L778.9 507.3L779.9 508.2L780.9 509.0L781.7 509.5L782.4 509.9L782.8 510.2L783.1 510.5A8.0 8.0 0 0 0 796.9 502.5L796.7 501.9L796.4 501.0L796.3 500.2L796.2 499.4L796.2 498.5L796.2 497.7L796.2 496.8L796.2 496.0L796.1 495.1L795.9 494.3L795.5 493.2L795.2 491.9L794.8 490.3L794.4 488.5L794.0 486.7L793.5 484.7L793.1 482.7L792.6 480.6L792.1 478.6L791.5 476.8L791.1 475.2L790.6 473.7L790.2 472.1L789.7 470.3L789.1 468.4L788.4 466.4L787.6 464.3L786.6 462.0L785.4 459.8L783.9 457.6L782.4 455.7L780.7 454.0L779.0 452.5L777.2 451.2L775.3 450.0L773.4 448.9L771.4 448.0L769.4 447.1L767.4 446.4L765.4 445.6L763.2 444.9L760.9 444.3L758.5 443.8L756.2 443.4L753.8 443.1L751.4 442.9L749.0 442.7L746.7 442.6L744.4 442.5L742.1 442.5L739.8 442.5L737.5 442.6L735.2 442.7L733.0 442.9L730.7 443.2L728.6 443.4L726.4 443.8L724.3 444.1L722.1 444.5L720.0 445.0L717.8 445.4L715.6 445.9L713.3 446.4L711.1 447.0L708.8 447.6L706.5 448.2L704.3 448.9L702.0 449.6L699.8 450.3L697.5 451.1L695.1 452.1L692.8 453.1L690.7 454.1L688.8 455.1L687.0 456.1L685.2 457.0L683.5 457.8L681.8 458.6L680.0 459.3L678.0 460.0L675.8 460.6L673.1 461.3L670.1 462.0L667.0 462.8L663.8 463.5L660.6 464.2L657.4 464.9L654.3 465.5L651.5 466.2L648.9 466.7L646.6 467.3L644.5 468.0L642.6 468.7L640.9 469.5L639.3 470.2L638.0 470.9L636.7 471.5L635.7 472.1L634.8 472.5L634.0 472.8A7.5 7.5 0 0 0 638.0 487.2Z" fill="#fdea1c" stroke="#fdea1c" stroke-width="0.6" stroke-linejoin="round" />
<g clip-path="url(#c10)">
<path d="M615.0 618.0 Q615.0 469.8 601.2 321.5 C601.2 315.0 606.2 313.5 616.5 313.5 C626.8 313.5 631.8 315.0 631.8 321.5 Q647.0 469.8 656.0 618.0 C656.0 629.0 647.0 632.0 635.5 632.0 C624.0 632.0 615.0 629.0 615.0 618.0 Z" fill="#3f57ab" stroke="#212b82" stroke-width="3.4" stroke-linejoin="round"/>
<path d="M614.5 325.5 Q628.5 472.8 632.5 610.0" fill="none" stroke="#6079c8" stroke-opacity="0.32" stroke-width="9" stroke-linecap="round" filter="url(#bl)"/>
<path d="M616.5 616.0 Q635.5 620.0 654.5 616.0 L654.5 618.0 C654.5 628.0 645.5 630.5 635.5 630.5 C625.5 630.5 616.5 628.0 616.5 618.0 Z" fill="#3b50b3"/>
<path d="M616.5 616.0 Q635.5 620.0 654.5 616.0" fill="none" stroke="#212b82" stroke-width="1.6" stroke-opacity="0.8"/>
</g>
<polygon points="896,482 928,465.5 940,465.5 940,483 922,489.5 906,485.5" fill="#fdea1c"/>
<path d="M347.6 509.4L348.7 508.4L350.0 507.2L351.3 505.8L352.8 504.4L354.3 503.0L355.8 501.6L357.3 500.4L358.8 499.3L360.2 498.4L361.4 497.8L362.9 497.2L364.6 496.7L366.5 496.2L368.5 495.8L370.6 495.4L372.8 495.1L375.1 494.9L377.5 494.7L379.9 494.6L382.2 494.5L384.6 494.5L387.0 494.5L389.5 494.5L392.0 494.7L394.5 494.8L397.0 495.1L399.4 495.4L401.9 495.8L404.2 496.2L406.4 496.7L408.5 497.3L410.5 498.0L412.6 498.7L414.7 499.6L416.9 500.6L419.2 501.6L421.5 502.7L424.0 503.8L426.7 505.0L429.3 506.1L432.0 507.2L434.7 508.3L437.5 509.5L440.4 510.7L443.3 511.9L446.2 513.0L449.2 514.2L452.1 515.3L455.1 516.4L457.9 517.3L460.9 518.3L464.0 519.1L467.1 520.0L470.1 520.7L473.1 521.5L475.9 522.1L478.5 522.7L480.7 523.2L482.6 523.7L484.0 524.0A8.2 8.2 0 0 0 488.0 508.0L486.4 507.6L484.4 507.1L482.1 506.6L479.6 506.0L476.9 505.4L474.1 504.7L471.2 504.0L468.4 503.2L465.6 502.5L463.1 501.7L460.5 500.8L457.9 499.8L455.1 498.8L452.3 497.7L449.5 496.6L446.7 495.4L443.8 494.2L441.0 493.1L438.3 491.9L435.7 490.9L433.2 489.9L430.9 488.8L428.6 487.7L426.3 486.5L423.9 485.4L421.5 484.2L418.9 483.1L416.3 482.0L413.5 481.1L410.6 480.3L407.7 479.6L404.8 479.0L401.9 478.6L398.9 478.2L396.0 477.9L393.1 477.7L390.2 477.5L387.3 477.5L384.5 477.5L381.8 477.5L379.1 477.6L376.3 477.8L373.6 478.0L370.8 478.3L368.1 478.6L365.3 479.1L362.6 479.7L359.9 480.3L357.3 481.2L354.6 482.2L351.8 483.6L349.2 485.2L346.9 486.9L344.7 488.7L342.7 490.5L341.0 492.2L339.4 493.7L338.1 495.0L337.1 496.0L336.4 496.6A8.5 8.5 0 0 0 347.6 509.4Z" fill="#c51d3c" stroke="#c51d3c" stroke-width="0.6" stroke-linejoin="round" />
<g clip-path="url(#c11)">
<path d="M476.5 617.0 Q487.9 469.0 495.8 321.0 C495.8 314.5 500.8 313.0 511.0 313.0 C521.2 313.0 526.2 314.5 526.2 321.0 Q520.0 469.0 517.5 617.0 C517.5 628.0 508.5 631.0 497.0 631.0 C485.5 631.0 476.5 628.0 476.5 617.0 Z" fill="#3f57ab" stroke="#212b82" stroke-width="3.4" stroke-linejoin="round"/>
<path d="M509.0 325.0 Q501.5 472.0 494.0 609.0" fill="none" stroke="#6079c8" stroke-opacity="0.32" stroke-width="9" stroke-linecap="round" filter="url(#bl)"/>
<path d="M478.0 615.0 Q497.0 619.0 516.0 615.0 L516.0 617.0 C516.0 627.0 507.0 629.5 497.0 629.5 C487.0 629.5 478.0 627.0 478.0 617.0 Z" fill="#3b50b3"/>
<path d="M478.0 615.0 Q497.0 619.0 516.0 615.0" fill="none" stroke="#212b82" stroke-width="1.6" stroke-opacity="0.8"/>
<ellipse cx="511.0" cy="317.8" rx="10.2" ry="1.2" fill="#dfe6f7" fill-opacity="0.6"/>
</g>
<g clip-path="url(#c12)">
<path d="M476.5 617.0 Q487.9 469.0 495.8 321.0 C495.8 314.5 500.8 313.0 511.0 313.0 C521.2 313.0 526.2 314.5 526.2 321.0 Q520.0 469.0 517.5 617.0 C517.5 628.0 508.5 631.0 497.0 631.0 C485.5 631.0 476.5 628.0 476.5 617.0 Z" fill="#3f57ab" stroke="#212b82" stroke-width="3.4" stroke-linejoin="round"/>
<path d="M509.0 325.0 Q501.5 472.0 494.0 609.0" fill="none" stroke="#6079c8" stroke-opacity="0.32" stroke-width="9" stroke-linecap="round" filter="url(#bl)"/>
<path d="M478.0 615.0 Q497.0 619.0 516.0 615.0 L516.0 617.0 C516.0 627.0 507.0 629.5 497.0 629.5 C487.0 629.5 478.0 627.0 478.0 617.0 Z" fill="#3b50b3"/>
<path d="M478.0 615.0 Q497.0 619.0 516.0 615.0" fill="none" stroke="#212b82" stroke-width="1.6" stroke-opacity="0.8"/>
<ellipse cx="511.0" cy="317.8" rx="10.2" ry="1.2" fill="#dfe6f7" fill-opacity="0.6"/>
</g>
<path d="M601.0 506.0L601.9 505.1L603.0 503.9L604.1 502.6L605.2 501.3L606.4 500.0L607.6 498.7L608.8 497.6L609.9 496.7L610.9 496.0L611.8 495.6L612.9 495.2L614.4 494.7L615.9 494.4L617.6 494.1L619.4 493.8L621.3 493.7L623.3 493.6L625.4 493.6L627.6 493.6L629.9 493.7L632.3 493.9L634.8 494.3L637.5 494.7L640.4 495.2L643.3 495.8L646.3 496.4L649.3 497.1L652.3 497.9L655.3 498.7L658.3 499.5L661.2 500.3L664.1 501.2L667.1 502.1L670.1 503.1L673.1 504.2L676.1 505.2L679.1 506.3L682.1 507.5L685.1 508.6L688.0 509.7L690.9 510.8L693.9 512.0L696.8 513.3L699.8 514.6L702.8 515.9L705.8 517.2L708.8 518.5L711.7 519.7L714.6 520.8L717.4 521.8L720.1 522.7L722.8 523.5L725.4 524.1L727.9 524.7L730.2 525.2L732.4 525.7L734.3 526.0L735.9 526.4L737.3 526.6L738.3 526.8A8.5 8.5 0 0 0 741.7 510.2L740.4 509.9L738.9 509.7L737.2 509.4L735.4 509.1L733.4 508.8L731.3 508.4L729.2 508.0L727.0 507.4L724.8 506.9L722.6 506.2L720.4 505.4L717.9 504.4L715.2 503.3L712.4 502.1L709.5 500.8L706.4 499.5L703.4 498.1L700.2 496.8L697.1 495.5L694.0 494.3L690.9 493.1L687.9 492.0L684.8 490.9L681.7 489.7L678.6 488.6L675.4 487.5L672.2 486.4L669.0 485.4L665.9 484.4L662.7 483.5L659.5 482.7L656.4 481.9L653.1 481.1L649.9 480.3L646.7 479.6L643.4 479.0L640.3 478.4L637.1 477.9L634.0 477.5L631.1 477.3L628.3 477.1L625.5 477.1L622.8 477.1L620.2 477.2L617.6 477.4L615.0 477.8L612.5 478.2L610.1 478.8L607.7 479.5L605.2 480.4L602.6 481.7L600.2 483.3L598.0 484.9L596.1 486.6L594.4 488.3L592.8 489.9L591.5 491.4L590.4 492.6L589.6 493.4L589.0 494.0A8.5 8.5 0 0 0 601.0 506.0Z" fill="#c51d3c" stroke="#c51d3c" stroke-width="0.6" stroke-linejoin="round" />
<g clip-path="url(#c13)">
<path d="M753.0 618.0 Q735.7 469.5 702.8 321.0 C702.8 314.5 707.8 313.0 718.0 313.0 C728.2 313.0 733.2 314.5 733.2 321.0 Q767.8 469.5 794.0 618.0 C794.0 629.0 785.0 632.0 773.5 632.0 C762.0 632.0 753.0 629.0 753.0 618.0 Z" fill="#3f57ab" stroke="#212b82" stroke-width="3.4" stroke-linejoin="round"/>
<path d="M716.0 325.0 Q749.2 472.5 770.5 610.0" fill="none" stroke="#6079c8" stroke-opacity="0.32" stroke-width="9" stroke-linecap="round" filter="url(#bl)"/>
<path d="M754.5 616.0 Q773.5 620.0 792.5 616.0 L792.5 618.0 C792.5 628.0 783.5 630.5 773.5 630.5 C763.5 630.5 754.5 628.0 754.5 618.0 Z" fill="#3b50b3"/>
<path d="M754.5 616.0 Q773.5 620.0 792.5 616.0" fill="none" stroke="#212b82" stroke-width="1.6" stroke-opacity="0.8"/>
<ellipse cx="718.0" cy="317.8" rx="10.2" ry="1.2" fill="#dfe6f7" fill-opacity="0.6"/>
</g>
<g clip-path="url(#c14)">
<path d="M753.0 618.0 Q735.7 469.5 702.8 321.0 C702.8 314.5 707.8 313.0 718.0 313.0 C728.2 313.0 733.2 314.5 733.2 321.0 Q767.8 469.5 794.0 618.0 C794.0 629.0 785.0 632.0 773.5 632.0 C762.0 632.0 753.0 629.0 753.0 618.0 Z" fill="#3f57ab" stroke="#212b82" stroke-width="3.4" stroke-linejoin="round"/>
<path d="M716.0 325.0 Q749.2 472.5 770.5 610.0" fill="none" stroke="#6079c8" stroke-opacity="0.32" stroke-width="9" stroke-linecap="round" filter="url(#bl)"/>
<path d="M754.5 616.0 Q773.5 620.0 792.5 616.0 L792.5 618.0 C792.5 628.0 783.5 630.5 773.5 630.5 C763.5 630.5 754.5 628.0 754.5 618.0 Z" fill="#3b50b3"/>
<path d="M754.5 616.0 Q773.5 620.0 792.5 616.0" fill="none" stroke="#212b82" stroke-width="1.6" stroke-opacity="0.8"/>
<ellipse cx="718.0" cy="317.8" rx="10.2" ry="1.2" fill="#dfe6f7" fill-opacity="0.6"/>
</g>
<path d="M849.6 509.3L850.5 508.2L851.5 506.9L852.6 505.5L853.8 504.0L854.9 502.6L856.1 501.2L857.3 500.0L858.4 498.9L859.3 498.2L860.1 497.7L861.0 497.3L862.3 496.9L863.7 496.5L865.3 496.1L867.0 495.8L868.8 495.6L870.7 495.4L872.6 495.3L874.5 495.3L876.5 495.2L878.4 495.3L880.2 495.4L882.2 495.5L884.1 495.7L886.0 496.0L888.0 496.4L890.0 496.8L891.9 497.2L893.9 497.8L895.8 498.3L897.7 499.0L899.6 499.8L901.7 500.7L903.8 501.7L905.9 502.7L908.1 503.9L910.3 505.0L912.4 506.1L914.5 507.3L916.5 508.3L918.3 509.2L920.1 510.2L921.9 511.1L923.7 512.1L925.4 513.0L926.9 513.9L928.4 514.8L929.7 515.5L930.8 516.1L931.7 516.6A8.8 8.8 0 0 0 940.3 501.4L939.4 500.9L938.3 500.3L937.0 499.5L935.5 498.7L933.9 497.8L932.1 496.8L930.3 495.8L928.4 494.7L926.4 493.7L924.5 492.7L922.6 491.7L920.6 490.7L918.5 489.5L916.2 488.4L913.9 487.1L911.4 485.9L908.9 484.7L906.4 483.6L903.8 482.6L901.2 481.7L898.7 480.9L896.2 480.3L893.7 479.7L891.3 479.2L888.8 478.7L886.3 478.4L883.8 478.1L881.4 477.9L878.9 477.8L876.5 477.8L874.2 477.8L871.8 477.9L869.4 478.0L866.9 478.2L864.4 478.5L861.9 479.0L859.4 479.5L856.9 480.2L854.5 481.1L851.9 482.3L849.4 483.8L847.0 485.6L845.0 487.5L843.1 489.5L841.5 491.4L840.1 493.1L838.8 494.8L837.7 496.1L837.0 497.1L836.4 497.7A8.8 8.8 0 0 0 849.6 509.3Z" fill="#c51d3c" stroke="#c51d3c" stroke-width="0.6" stroke-linejoin="round" />
<path d="M159.4 582.5L160.6 582.4L162.2 582.4L164.2 582.4L166.4 582.4L169.0 582.3L171.7 582.3L174.5 582.1L177.4 581.9L180.4 581.6L183.4 581.1L186.2 580.7L188.9 580.2L191.6 579.7L194.4 579.1L197.3 578.4L200.3 577.7L203.6 576.9L207.0 575.9L210.7 574.8L214.7 573.6L219.2 572.1L224.1 570.4L229.4 568.6L234.9 566.6L240.6 564.6L246.2 562.5L251.8 560.4L257.3 558.4L262.4 556.5L267.1 554.7L271.5 553.0L275.6 551.3L279.5 549.7L283.2 548.2L286.8 546.6L290.2 545.2L293.6 543.8L296.9 542.4L300.4 541.0L303.9 539.7L307.7 538.4L311.7 537.1L315.7 535.8L319.8 534.4L323.9 533.2L328.0 532.0L331.8 530.8L335.6 529.8L339.0 528.8L342.2 528.0L345.0 527.3L347.6 526.6L349.8 526.1L351.9 525.7L353.8 525.4L355.7 525.1L357.5 524.8L359.5 524.6L361.5 524.4L363.7 524.2L366.1 524.1L368.5 523.9L371.1 523.8L373.7 523.8L376.2 523.8L378.7 523.8L381.0 523.9L383.2 524.0L385.1 524.2L386.8 524.4L388.2 524.7L389.5 525.0L390.5 525.4L391.3 525.7L391.8 526.1L392.1 526.4L392.3 526.6L392.4 526.9L392.6 527.1L392.8 527.4L393.0 527.7L393.1 528.2L393.2 528.8L393.2 529.7L393.2 530.7L393.2 531.8L393.3 533.1L393.3 534.6L393.4 536.1L393.6 537.6L393.8 539.0L393.9 540.7L393.9 542.7L393.9 544.9L393.8 547.2L393.8 549.6L393.7 552.0L393.7 554.3L393.7 556.6L393.8 558.7L394.0 560.5L394.3 562.1L394.7 563.5L395.2 564.8L395.7 566.0L396.3 567.0L396.8 567.9L397.2 568.6L397.5 569.3L397.7 570.0L398.0 570.9L398.4 571.8L399.0 572.6L399.6 573.2L400.2 573.8L400.8 574.3L401.4 574.7L401.8 575.0L402.1 575.2L402.3 575.5A7.0 7.0 0 0 0 415.7 571.5L415.7 571.1L415.8 570.6L416.0 570.1L416.2 569.5L416.5 568.9L416.8 568.3L417.0 567.8L417.2 567.2L417.3 566.6L417.3 566.0L417.2 565.2L417.2 564.3L417.3 563.6L417.4 562.8L417.6 562.1L417.9 561.3L418.0 560.5L418.2 559.6L418.3 558.5L418.2 557.3L418.2 556.0L418.1 554.2L418.1 552.2L418.1 549.9L418.1 547.4L418.1 544.8L418.0 542.2L417.9 539.6L417.7 536.9L417.4 534.4L417.0 532.2L416.5 530.2L415.9 528.2L415.1 526.3L414.3 524.3L413.3 522.3L412.2 520.3L411.0 518.4L409.6 516.4L408.2 514.6L406.6 512.9L404.9 511.5L403.1 510.3L401.2 509.3L399.2 508.6L397.2 508.0L395.3 507.5L393.3 507.2L391.3 506.9L389.2 506.6L386.9 506.3L384.3 506.1L381.7 506.0L378.9 506.0L376.1 506.0L373.2 506.1L370.4 506.2L367.6 506.4L364.9 506.6L362.3 506.8L359.9 507.0L357.6 507.2L355.4 507.5L353.2 507.8L350.9 508.1L348.6 508.5L346.2 509.0L343.6 509.6L340.8 510.3L337.8 511.0L334.5 511.9L330.8 512.9L327.0 514.0L323.0 515.2L318.8 516.4L314.6 517.8L310.4 519.1L306.2 520.5L302.1 521.9L298.1 523.3L294.2 524.7L290.5 526.1L286.9 527.6L283.4 529.1L279.9 530.5L276.4 532.1L272.8 533.6L269.0 535.1L265.1 536.7L260.9 538.3L256.2 540.1L251.2 541.9L245.8 543.9L240.2 545.9L234.6 547.9L229.0 549.8L223.5 551.7L218.3 553.5L213.6 555.0L209.3 556.4L205.4 557.6L202.0 558.7L198.8 559.6L195.8 560.5L193.1 561.2L190.5 561.8L188.0 562.4L185.5 562.9L183.1 563.4L180.6 563.9L178.2 564.2L175.7 564.5L173.2 564.8L170.7 565.0L168.3 565.1L166.0 565.2L163.8 565.3L161.8 565.4L160.0 565.4L158.6 565.5A8.5 8.5 0 0 0 159.4 582.5Z" fill="#1c9650" stroke="#1c9650" stroke-width="0.6" stroke-linejoin="round" />
<g clip-path="url(#c15)">
<path d="M200.5 619.0 Q244.9 470.0 291.8 321.0 C291.8 314.5 296.8 313.0 307.0 313.0 C317.2 313.0 322.2 314.5 322.2 321.0 Q277.1 470.0 241.5 619.0 C241.5 630.0 232.5 633.0 221.0 633.0 C209.5 633.0 200.5 630.0 200.5 619.0 Z" fill="#3f57ab" stroke="#212b82" stroke-width="3.4" stroke-linejoin="round"/>
<path d="M305.0 325.0 Q258.5 473.0 218.0 611.0" fill="none" stroke="#6079c8" stroke-opacity="0.32" stroke-width="9" stroke-linecap="round" filter="url(#bl)"/>
<path d="M202.0 617.0 Q221.0 621.0 240.0 617.0 L240.0 619.0 C240.0 629.0 231.0 631.5 221.0 631.5 C211.0 631.5 202.0 629.0 202.0 619.0 Z" fill="#3b50b3"/>
<path d="M202.0 617.0 Q221.0 621.0 240.0 617.0" fill="none" stroke="#212b82" stroke-width="1.6" stroke-opacity="0.8"/>
<ellipse cx="307.0" cy="317.8" rx="10.2" ry="1.2" fill="#dfe6f7" fill-opacity="0.6"/>
</g>
<path d="M529.4 538.5L529.9 538.5L530.5 538.7L531.2 538.9L532.1 539.3L533.1 539.6L534.3 539.9L535.7 540.1L537.3 540.2L539.1 540.2L541.1 539.9L543.3 539.6L545.8 539.3L548.6 539.1L551.6 538.8L554.9 538.6L558.2 538.3L561.6 537.9L565.1 537.4L568.6 536.8L572.1 536.0L575.6 535.0L579.2 533.9L582.8 532.7L586.4 531.5L589.9 530.3L593.4 529.1L596.8 528.0L600.1 527.1L603.2 526.2L606.1 525.6L609.1 525.1L612.1 524.7L615.1 524.3L618.0 524.1L621.0 523.9L623.8 523.8L626.6 523.8L629.2 523.8L631.7 523.9L634.1 524.0L636.3 524.1L638.3 524.4L640.1 524.7L641.7 525.1L643.1 525.5L644.3 525.9L645.3 526.4L646.1 526.9L646.9 527.3L647.5 527.7L647.9 528.2L648.3 528.7L648.6 529.5L648.9 530.5L649.3 531.6L649.6 532.8L649.9 534.2L650.2 535.7L650.6 537.2L651.1 538.6L651.4 539.7L651.6 540.9L651.8 542.4L652.0 544.1L652.1 546.0L652.2 548.0L652.4 550.1L652.5 552.3L652.8 554.7L653.3 557.0L653.8 559.0L654.4 560.8L655.2 562.5L656.0 564.2L656.9 565.8L657.8 567.3L658.6 568.8L659.4 570.2L660.2 571.5L660.8 572.9L661.6 574.4L662.7 575.7L663.8 576.8L664.9 577.6L666.0 578.2L667.0 578.6L667.9 578.9L668.5 579.1L668.8 579.1L669.0 579.2A6.5 6.5 0 0 0 679.0 570.8L678.6 570.3L678.3 569.6L678.1 568.9L678.0 568.2L678.0 567.6L678.1 567.0L678.2 566.5L678.3 566.0L678.3 565.6L678.2 565.1L677.9 564.3L677.7 563.3L677.6 562.1L677.5 560.8L677.4 559.4L677.4 557.9L677.3 556.4L677.2 554.9L677.0 553.4L676.7 552.0L676.5 550.8L676.3 549.3L676.0 547.6L675.7 545.7L675.5 543.6L675.2 541.3L674.8 539.0L674.3 536.5L673.7 533.9L672.9 531.4L672.1 529.3L671.2 527.4L670.2 525.5L669.0 523.5L667.7 521.5L666.2 519.6L664.5 517.6L662.7 515.8L660.7 514.0L658.5 512.3L656.3 510.9L654.0 509.8L651.7 509.0L649.4 508.3L647.0 507.9L644.6 507.6L642.3 507.4L639.9 507.2L637.4 507.1L634.9 507.0L632.2 506.9L629.4 506.9L626.4 506.9L623.3 507.0L620.0 507.2L616.7 507.5L613.3 507.8L609.9 508.2L606.4 508.8L602.9 509.4L599.3 510.2L595.6 511.2L591.9 512.3L588.2 513.5L584.6 514.7L581.0 515.9L577.6 517.1L574.2 518.2L571.0 519.2L567.9 520.0L564.8 520.8L561.7 521.7L558.5 522.7L555.3 523.6L552.2 524.6L549.2 525.5L546.3 526.3L543.6 527.0L541.1 527.6L538.9 528.1L537.1 528.5L535.5 529.0L534.2 529.5L533.1 530.1L532.1 530.7L531.3 531.2L530.5 531.7L529.9 532.1L529.2 532.4L528.6 532.5A3.0 3.0 0 0 0 529.4 538.5Z" fill="#1c9650" stroke="#1c9650" stroke-width="0.6" stroke-linejoin="round" />
<path d="M789.7 537.5L790.1 537.5L790.5 537.8L791.1 538.1L791.8 538.5L792.6 538.9L793.7 539.2L794.8 539.5L796.2 539.6L797.7 539.6L799.3 539.4L801.0 539.0L803.0 538.8L805.1 538.5L807.3 538.3L809.7 538.1L812.2 537.8L814.9 537.4L817.5 537.0L820.2 536.4L823.0 535.6L825.9 534.7L828.9 533.7L832.0 532.6L835.1 531.4L838.2 530.3L841.2 529.2L844.3 528.2L847.2 527.3L850.1 526.5L852.8 525.8L855.6 525.3L858.5 524.8L861.6 524.3L864.6 524.0L867.7 523.7L870.6 523.4L873.5 523.3L876.3 523.1L878.8 523.0L881.1 523.0L883.1 523.0L884.8 523.1L886.3 523.2L887.5 523.3L888.6 523.5L889.6 523.7L890.6 524.0L891.6 524.3L892.6 524.7L893.8 525.1L895.0 525.6L896.0 526.2L897.1 526.8L898.1 527.5L899.0 528.2L900.0 529.0L900.9 529.9L901.8 530.7L902.7 531.6L903.6 532.5L904.4 533.5L905.2 534.7L906.0 536.0L906.8 537.5L907.5 539.1L908.3 540.8L909.2 542.6L910.1 544.5L911.0 546.3L912.0 548.0L912.8 549.5L913.6 551.1L914.5 552.8L915.4 554.7L916.3 556.8L917.3 558.9L918.5 561.2L919.8 563.5L921.3 565.8L923.0 568.0L924.9 570.0L926.7 571.7L928.7 573.2L930.7 574.6L932.7 575.8L934.7 576.9L936.8 578.0L938.7 578.9L940.7 579.8L942.6 580.7L944.8 581.5L947.0 582.2L949.1 582.7L951.2 583.1L953.2 583.4L955.1 583.5L956.8 583.7L958.4 583.8L959.9 583.9L961.3 584.0L962.9 584.1L964.5 584.1L966.1 584.1L967.5 584.0L968.8 583.9L970.0 583.8L971.0 583.7L971.8 583.6L972.3 583.5L972.7 583.5A9.0 9.0 0 0 0 971.3 565.5L970.6 565.6L969.7 565.7L968.8 565.8L968.0 565.9L967.1 566.0L966.3 566.0L965.4 566.1L964.5 566.1L963.7 566.1L962.7 566.0L961.5 565.9L960.1 565.7L958.7 565.5L957.3 565.3L955.9 565.1L954.7 564.8L953.5 564.5L952.3 564.1L951.3 563.7L950.4 563.3L949.3 562.7L948.0 562.0L946.9 561.1L945.7 560.1L944.6 559.1L943.5 558.1L942.6 557.0L941.6 555.9L940.7 554.9L940.0 554.0L939.3 553.1L938.6 552.0L937.8 550.7L937.0 549.1L936.2 547.4L935.3 545.5L934.4 543.5L933.3 541.3L932.2 539.1L931.0 537.0L929.9 535.2L928.8 533.5L927.5 531.7L926.2 530.0L924.9 528.2L923.5 526.4L922.0 524.7L920.5 522.9L919.0 521.1L917.4 519.5L915.8 517.9L914.2 516.5L912.5 515.2L910.8 514.1L909.1 513.0L907.3 512.0L905.5 511.1L903.8 510.3L902.0 509.6L900.2 508.9L898.5 508.2L896.8 507.7L895.1 507.2L893.3 506.8L891.4 506.5L889.5 506.3L887.5 506.1L885.5 506.0L883.3 506.0L880.9 506.0L878.3 506.0L875.6 506.1L872.6 506.3L869.4 506.5L866.2 506.8L862.8 507.1L859.4 507.5L856.0 508.0L852.6 508.5L849.2 509.2L845.8 510.0L842.4 511.0L839.0 512.0L835.7 513.2L832.4 514.3L829.2 515.5L826.2 516.6L823.3 517.6L820.6 518.6L818.0 519.4L815.5 520.2L813.0 521.1L810.6 522.1L808.3 523.1L806.0 524.1L803.9 525.0L801.9 525.8L800.0 526.6L798.3 527.2L796.7 527.6L795.4 528.0L794.3 528.4L793.5 528.9L792.7 529.4L792.0 529.9L791.4 530.4L790.9 530.8L790.3 531.1L789.8 531.4L789.3 531.5A3.0 3.0 0 0 0 789.7 537.5Z" fill="#1c9650" stroke="#1c9650" stroke-width="0.6" stroke-linejoin="round" />
<path d="M166.9 573.2L168.5 572.5L170.7 571.4L173.1 570.3L175.9 569.0L178.8 567.6L181.9 566.2L185.0 564.8L188.0 563.4L191.0 562.2L193.7 561.2L196.5 560.2L199.3 559.2L202.2 558.2L205.2 557.2L208.1 556.3L211.0 555.4L213.9 554.6L216.7 553.9L219.5 553.2L222.1 552.7L224.6 552.3L227.0 551.9L229.3 551.6L231.6 551.4L233.9 551.2L236.2 551.1L238.5 551.1L240.9 551.0L243.3 551.0L245.7 551.1L248.2 551.2L250.7 551.3L253.1 551.4L255.5 551.6L257.9 551.8L260.3 552.1L262.7 552.4L265.1 552.8L267.5 553.3L270.0 553.9L272.6 554.5L275.2 555.2L277.9 556.0L280.7 556.9L283.4 557.8L286.2 558.8L289.0 559.9L291.9 561.0L294.7 562.1L297.5 563.4L300.3 564.7L303.3 566.1L306.3 567.6L309.4 569.3L312.5 571.0L315.5 572.7L318.6 574.4L321.5 576.0L324.2 577.6L326.8 579.0L329.2 580.4L331.6 581.7L333.8 583.0L336.0 584.2L338.0 585.4L339.9 586.5L341.7 587.6L343.2 588.5L344.6 589.3L345.7 589.9A8.6 8.6 0 0 0 354.3 575.1L353.3 574.5L352.0 573.7L350.4 572.8L348.7 571.7L346.7 570.6L344.6 569.4L342.4 568.1L340.1 566.7L337.6 565.4L335.2 564.0L332.6 562.6L329.9 561.0L327.0 559.4L323.9 557.7L320.8 555.9L317.5 554.1L314.3 552.4L311.0 550.7L307.7 549.1L304.5 547.6L301.4 546.3L298.3 545.0L295.2 543.8L292.1 542.7L289.1 541.6L286.0 540.5L283.0 539.6L279.9 538.7L276.9 537.9L274.0 537.1L271.0 536.5L268.1 535.9L265.3 535.4L262.5 535.0L259.7 534.7L256.9 534.5L254.2 534.3L251.6 534.1L248.9 534.0L246.3 533.9L243.6 533.8L241.0 533.8L238.4 533.7L235.7 533.8L233.1 533.8L230.4 533.9L227.6 534.1L224.8 534.4L221.9 534.8L218.9 535.3L215.9 535.9L212.8 536.5L209.6 537.2L206.4 538.0L203.1 538.9L199.9 539.8L196.7 540.7L193.5 541.7L190.4 542.7L187.3 543.8L184.1 545.1L180.8 546.5L177.4 547.9L174.1 549.5L170.9 551.0L167.9 552.5L165.2 553.8L162.7 555.0L160.7 556.0L159.1 556.8A9.1 9.1 0 0 0 166.9 573.2Z" fill="#8f2390" stroke="#8f2390" stroke-width="0.6" stroke-linejoin="round" />
<path d="M480.5 592.0L480.5 590.1L480.5 587.5L480.4 584.5L480.4 581.3L480.3 577.8L480.3 574.4L480.4 571.1L480.5 568.1L480.7 565.6L480.9 563.8L481.1 562.2L481.2 560.8L481.3 559.7L481.3 558.7L481.3 558.0L481.3 557.3L481.3 556.8L481.4 556.3L481.7 555.7L482.1 555.3L482.4 554.9L482.7 554.6L483.2 554.1L483.8 553.6L484.7 553.0L485.7 552.5L486.9 552.0L488.2 551.5L489.7 551.1L491.3 550.8L492.8 550.6L494.4 550.5L496.2 550.3L498.1 550.3L500.1 550.2L502.2 550.3L504.3 550.3L506.4 550.4L508.4 550.5L510.5 550.6L512.5 550.7L514.4 550.8L516.2 550.9L518.0 551.1L519.6 551.2L521.3 551.4L522.9 551.7L524.4 552.0L526.0 552.3L527.6 552.7L529.1 553.2L530.6 553.8L532.2 554.5L533.8 555.2L535.5 556.0L537.4 556.9L539.4 557.9L541.5 559.0L543.9 560.1L546.4 561.3L549.0 562.5L551.7 563.8L554.6 565.1L557.5 566.5L560.6 568.0L563.8 569.5L567.1 571.0L570.4 572.5L573.8 574.0L577.1 575.4L580.7 576.9L584.6 578.5L588.7 580.1L592.9 581.8L597.0 583.4L601.0 584.9L604.7 586.4L608.0 587.6L610.8 588.7L612.9 589.5A8.6 8.6 0 0 0 619.1 573.5L617.0 572.6L614.2 571.6L610.9 570.3L607.2 568.9L603.3 567.4L599.2 565.8L595.1 564.1L591.1 562.5L587.3 561.0L583.9 559.6L580.6 558.2L577.4 556.8L574.2 555.3L571.1 553.9L567.9 552.4L564.9 551.0L561.9 549.6L559.0 548.2L556.2 546.9L553.6 545.7L551.3 544.6L549.1 543.6L547.0 542.5L545.0 541.5L543.0 540.5L541.1 539.6L539.0 538.7L536.9 537.8L534.7 537.0L532.4 536.3L530.2 535.6L527.9 535.1L525.7 534.7L523.6 534.4L521.5 534.1L519.4 533.9L517.4 533.8L515.5 533.7L513.5 533.5L511.5 533.4L509.5 533.3L507.3 533.1L505.0 533.0L502.7 532.9L500.4 532.8L498.0 532.7L495.7 532.7L493.3 532.8L491.0 532.9L488.7 533.2L486.7 533.5L484.7 533.7L482.7 534.0L480.6 534.2L478.5 534.6L476.4 535.2L474.2 535.9L472.0 536.9L469.9 538.2L467.9 539.7L466.3 541.3L464.7 542.9L463.1 544.6L461.7 546.5L460.4 548.5L459.2 550.6L458.2 552.8L457.3 555.1L456.7 557.5L456.1 560.2L455.8 563.4L455.5 566.9L455.4 570.5L455.3 574.2L455.3 578.0L455.4 581.6L455.4 584.9L455.5 587.9L455.5 590.2L455.5 592.0A12.5 12.5 0 0 0 480.5 592.0Z" fill="#8f2390" stroke="#8f2390" stroke-width="0.6" stroke-linejoin="round" />
<path d="M747.0 592.0L747.0 590.0L747.0 587.5L746.9 584.5L746.9 581.2L746.8 577.9L746.8 574.4L746.9 571.2L747.0 568.2L747.1 565.8L747.3 564.0L747.6 562.5L747.7 561.0L747.7 559.8L747.7 558.8L747.6 558.0L747.5 557.4L747.5 556.9L747.5 556.4L747.6 555.9L748.0 555.5L748.5 555.1L748.9 554.6L749.4 554.1L750.1 553.5L750.9 552.9L752.0 552.3L753.2 551.8L754.7 551.4L756.4 551.0L758.3 550.9L760.3 550.9L762.5 550.9L765.0 551.0L767.6 551.2L770.3 551.5L773.2 551.8L776.0 552.2L778.9 552.7L781.8 553.3L784.6 553.9L787.3 554.5L790.1 555.3L792.9 556.2L795.8 557.1L798.7 558.0L801.7 559.1L804.6 560.1L807.5 561.2L810.5 562.4L813.3 563.5L816.0 564.6L818.7 565.8L821.5 567.0L824.2 568.3L827.0 569.7L829.7 571.0L832.5 572.4L835.3 573.7L838.2 575.1L841.0 576.4L843.9 577.6L846.8 578.8L849.8 580.1L852.7 581.3L855.6 582.4L858.4 583.6L861.0 584.6L863.4 585.6L865.6 586.5L867.5 587.4L869.2 588.1L870.7 588.8L872.0 589.4L873.1 590.0L874.2 590.5L875.1 591.0L875.9 591.5L876.6 591.9L877.4 592.3L878.0 592.6A8.6 8.6 0 0 0 886.0 577.4L885.4 577.1L884.9 576.8L884.1 576.4L883.2 575.9L882.2 575.3L881.0 574.7L879.6 574.0L878.1 573.3L876.4 572.5L874.5 571.6L872.3 570.7L870.0 569.7L867.5 568.7L864.8 567.6L862.0 566.5L859.2 565.3L856.3 564.2L853.5 563.0L850.7 561.8L848.0 560.6L845.4 559.5L842.7 558.2L840.0 556.9L837.3 555.6L834.5 554.2L831.6 552.8L828.7 551.4L825.8 550.1L822.7 548.8L819.7 547.5L816.7 546.3L813.7 545.2L810.6 544.0L807.5 542.9L804.3 541.8L801.1 540.7L798.0 539.7L794.8 538.8L791.6 537.9L788.4 537.1L785.3 536.4L782.1 535.8L778.9 535.2L775.7 534.6L772.5 534.1L769.4 533.7L766.3 533.4L763.3 533.2L760.5 533.1L757.7 533.1L755.2 533.2L752.7 533.2L750.3 533.3L747.8 533.5L745.4 533.8L743.0 534.2L740.6 534.9L738.3 535.8L736.0 537.0L734.0 538.5L732.1 540.2L730.2 541.9L728.5 543.7L726.8 545.7L725.3 547.8L724.0 550.1L722.9 552.4L722.0 554.8L721.2 557.2L720.7 560.0L720.2 563.3L720.0 566.8L719.9 570.5L719.8 574.3L719.8 578.0L719.9 581.6L719.9 585.0L720.0 587.9L720.0 590.3L720.0 592.0A13.5 13.5 0 0 0 747.0 592.0Z" fill="#8f2390" stroke="#8f2390" stroke-width="0.6" stroke-linejoin="round" />
<rect x="146.0" y="585.6" width="842.0" height="24.4" rx="5" fill="#fd7f1f"/>
<g clip-path="url(#c16)">
<path d="M337.5 619.0 Q368.4 470.0 393.8 321.0 C393.8 314.5 398.8 313.0 409.0 313.0 C419.2 313.0 424.2 314.5 424.2 321.0 Q400.6 470.0 378.5 619.0 C378.5 630.0 369.5 633.0 358.0 633.0 C346.5 633.0 337.5 630.0 337.5 619.0 Z" fill="#3f57ab" stroke="#212b82" stroke-width="3.4" stroke-linejoin="round"/>
<path d="M407.0 325.0 Q382.0 473.0 355.0 611.0" fill="none" stroke="#6079c8" stroke-opacity="0.32" stroke-width="9" stroke-linecap="round" filter="url(#bl)"/>
<path d="M339.0 617.0 Q358.0 621.0 377.0 617.0 L377.0 619.0 C377.0 629.0 368.0 631.5 358.0 631.5 C348.0 631.5 339.0 629.0 339.0 619.0 Z" fill="#3b50b3"/>
<path d="M339.0 617.0 Q358.0 621.0 377.0 617.0" fill="none" stroke="#212b82" stroke-width="1.6" stroke-opacity="0.8"/>
</g>
<g clip-path="url(#c17)">
<path d="M615.0 618.0 Q615.0 469.8 601.2 321.5 C601.2 315.0 606.2 313.5 616.5 313.5 C626.8 313.5 631.8 315.0 631.8 321.5 Q647.0 469.8 656.0 618.0 C656.0 629.0 647.0 632.0 635.5 632.0 C624.0 632.0 615.0 629.0 615.0 618.0 Z" fill="#3f57ab" stroke="#212b82" stroke-width="3.4" stroke-linejoin="round"/>
<path d="M614.5 325.5 Q628.5 472.8 632.5 610.0" fill="none" stroke="#6079c8" stroke-opacity="0.32" stroke-width="9" stroke-linecap="round" filter="url(#bl)"/>
<path d="M616.5 616.0 Q635.5 620.0 654.5 616.0 L654.5 618.0 C654.5 628.0 645.5 630.5 635.5 630.5 C625.5 630.5 616.5 628.0 616.5 618.0 Z" fill="#3b50b3"/>
<path d="M616.5 616.0 Q635.5 620.0 654.5 616.0" fill="none" stroke="#212b82" stroke-width="1.6" stroke-opacity="0.8"/>
</g>
<g clip-path="url(#c18)">
<path d="M892.0 619.0 Q855.5 471.0 807.2 323.0 C807.2 316.5 812.2 315.0 822.5 315.0 C832.8 315.0 837.8 316.5 837.8 323.0 Q887.5 471.0 933.0 619.0 C933.0 630.0 924.0 633.0 912.5 633.0 C901.0 633.0 892.0 630.0 892.0 619.0 Z" fill="#3f57ab" stroke="#212b82" stroke-width="3.4" stroke-linejoin="round"/>
<path d="M820.5 327.0 Q869.0 474.0 909.5 611.0" fill="none" stroke="#6079c8" stroke-opacity="0.32" stroke-width="9" stroke-linecap="round" filter="url(#bl)"/>
<path d="M893.5 617.0 Q912.5 621.0 931.5 617.0 L931.5 619.0 C931.5 629.0 922.5 631.5 912.5 631.5 C902.5 631.5 893.5 629.0 893.5 619.0 Z" fill="#3b50b3"/>
<path d="M893.5 617.0 Q912.5 621.0 931.5 617.0" fill="none" stroke="#212b82" stroke-width="1.6" stroke-opacity="0.8"/>
</g>
<g clip-path="url(#c19)">
<path d="M200.5 619.0 Q244.9 470.0 291.8 321.0 C291.8 314.5 296.8 313.0 307.0 313.0 C317.2 313.0 322.2 314.5 322.2 321.0 Q277.1 470.0 241.5 619.0 C241.5 630.0 232.5 633.0 221.0 633.0 C209.5 633.0 200.5 630.0 200.5 619.0 Z" fill="#3f57ab" stroke="#212b82" stroke-width="3.4" stroke-linejoin="round"/>
<path d="M305.0 325.0 Q258.5 473.0 218.0 611.0" fill="none" stroke="#6079c8" stroke-opacity="0.32" stroke-width="9" stroke-linecap="round" filter="url(#bl)"/>
<path d="M202.0 617.0 Q221.0 621.0 240.0 617.0 L240.0 619.0 C240.0 629.0 231.0 631.5 221.0 631.5 C211.0 631.5 202.0 629.0 202.0 619.0 Z" fill="#3b50b3"/>
<path d="M202.0 617.0 Q221.0 621.0 240.0 617.0" fill="none" stroke="#212b82" stroke-width="1.6" stroke-opacity="0.8"/>
<ellipse cx="307.0" cy="317.8" rx="10.2" ry="1.2" fill="#dfe6f7" fill-opacity="0.6"/>
</g>
<g clip-path="url(#c20)">
<path d="M337.5 619.0 Q368.4 470.0 393.8 321.0 C393.8 314.5 398.8 313.0 409.0 313.0 C419.2 313.0 424.2 314.5 424.2 321.0 Q400.6 470.0 378.5 619.0 C378.5 630.0 369.5 633.0 358.0 633.0 C346.5 633.0 337.5 630.0 337.5 619.0 Z" fill="#3f57ab" stroke="#212b82" stroke-width="3.4" stroke-linejoin="round"/>
<path d="M407.0 325.0 Q382.0 473.0 355.0 611.0" fill="none" stroke="#6079c8" stroke-opacity="0.32" stroke-width="9" stroke-linecap="round" filter="url(#bl)"/>
<path d="M339.0 617.0 Q358.0 621.0 377.0 617.0 L377.0 619.0 C377.0 629.0 368.0 631.5 358.0 631.5 C348.0 631.5 339.0 629.0 339.0 619.0 Z" fill="#3b50b3"/>
<path d="M339.0 617.0 Q358.0 621.0 377.0 617.0" fill="none" stroke="#212b82" stroke-width="1.6" stroke-opacity="0.8"/>
</g>
<g clip-path="url(#c21)">
<path d="M476.5 617.0 Q487.9 469.0 495.8 321.0 C495.8 314.5 500.8 313.0 511.0 313.0 C521.2 313.0 526.2 314.5 526.2 321.0 Q520.0 469.0 517.5 617.0 C517.5 628.0 508.5 631.0 497.0 631.0 C485.5 631.0 476.5 628.0 476.5 617.0 Z" fill="#3f57ab" stroke="#212b82" stroke-width="3.4" stroke-linejoin="round"/>
<path d="M509.0 325.0 Q501.5 472.0 494.0 609.0" fill="none" stroke="#6079c8" stroke-opacity="0.32" stroke-width="9" stroke-linecap="round" filter="url(#bl)"/>
<path d="M478.0 615.0 Q497.0 619.0 516.0 615.0 L516.0 617.0 C516.0 627.0 507.0 629.5 497.0 629.5 C487.0 629.5 478.0 627.0 478.0 617.0 Z" fill="#3b50b3"/>
<path d="M478.0 615.0 Q497.0 619.0 516.0 615.0" fill="none" stroke="#212b82" stroke-width="1.6" stroke-opacity="0.8"/>
<ellipse cx="511.0" cy="317.8" rx="10.2" ry="1.2" fill="#dfe6f7" fill-opacity="0.6"/>
</g>
<g clip-path="url(#c22)">
<path d="M615.0 618.0 Q615.0 469.8 601.2 321.5 C601.2 315.0 606.2 313.5 616.5 313.5 C626.8 313.5 631.8 315.0 631.8 321.5 Q647.0 469.8 656.0 618.0 C656.0 629.0 647.0 632.0 635.5 632.0 C624.0 632.0 615.0 629.0 615.0 618.0 Z" fill="#3f57ab" stroke="#212b82" stroke-width="3.4" stroke-linejoin="round"/>
<path d="M614.5 325.5 Q628.5 472.8 632.5 610.0" fill="none" stroke="#6079c8" stroke-opacity="0.32" stroke-width="9" stroke-linecap="round" filter="url(#bl)"/>
<path d="M616.5 616.0 Q635.5 620.0 654.5 616.0 L654.5 618.0 C654.5 628.0 645.5 630.5 635.5 630.5 C625.5 630.5 616.5 628.0 616.5 618.0 Z" fill="#3b50b3"/>
<path d="M616.5 616.0 Q635.5 620.0 654.5 616.0" fill="none" stroke="#212b82" stroke-width="1.6" stroke-opacity="0.8"/>
</g>
<g clip-path="url(#c23)">
<path d="M753.0 618.0 Q735.7 469.5 702.8 321.0 C702.8 314.5 707.8 313.0 718.0 313.0 C728.2 313.0 733.2 314.5 733.2 321.0 Q767.8 469.5 794.0 618.0 C794.0 629.0 785.0 632.0 773.5 632.0 C762.0 632.0 753.0 629.0 753.0 618.0 Z" fill="#3f57ab" stroke="#212b82" stroke-width="3.4" stroke-linejoin="round"/>
<path d="M716.0 325.0 Q749.2 472.5 770.5 610.0" fill="none" stroke="#6079c8" stroke-opacity="0.32" stroke-width="9" stroke-linecap="round" filter="url(#bl)"/>
<path d="M754.5 616.0 Q773.5 620.0 792.5 616.0 L792.5 618.0 C792.5 628.0 783.5 630.5 773.5 630.5 C763.5 630.5 754.5 628.0 754.5 618.0 Z" fill="#3b50b3"/>
<path d="M754.5 616.0 Q773.5 620.0 792.5 616.0" fill="none" stroke="#212b82" stroke-width="1.6" stroke-opacity="0.8"/>
<ellipse cx="718.0" cy="317.8" rx="10.2" ry="1.2" fill="#dfe6f7" fill-opacity="0.6"/>
</g>
<g clip-path="url(#c24)">
<path d="M892.0 619.0 Q855.5 471.0 807.2 323.0 C807.2 316.5 812.2 315.0 822.5 315.0 C832.8 315.0 837.8 316.5 837.8 323.0 Q887.5 471.0 933.0 619.0 C933.0 630.0 924.0 633.0 912.5 633.0 C901.0 633.0 892.0 630.0 892.0 619.0 Z" fill="#3f57ab" stroke="#212b82" stroke-width="3.4" stroke-linejoin="round"/>
<path d="M820.5 327.0 Q869.0 474.0 909.5 611.0" fill="none" stroke="#6079c8" stroke-opacity="0.32" stroke-width="9" stroke-linecap="round" filter="url(#bl)"/>
<path d="M893.5 617.0 Q912.5 621.0 931.5 617.0 L931.5 619.0 C931.5 629.0 922.5 631.5 912.5 631.5 C902.5 631.5 893.5 629.0 893.5 619.0 Z" fill="#3b50b3"/>
<path d="M893.5 617.0 Q912.5 621.0 931.5 617.0" fill="none" stroke="#212b82" stroke-width="1.6" stroke-opacity="0.8"/>
</g>
<polygon points="289.9,209.7 238.9,123.7 231.2,128.3 282.1,214.3" fill="#000"/>
<polygon points="217.3,97.8 215.0,137.0 261.3,125.0" fill="#000" stroke="#000" stroke-width="1" stroke-linejoin="round"/>
<polygon points="439.0,194.0 353.7,146.4 349.7,153.7 435.0,201.2" fill="#000"/>
<polygon points="316.0,126.3 342.0,165.5 374.0,143.0" fill="#000" stroke="#000" stroke-width="1" stroke-linejoin="round"/>
<polygon points="311.3,278.1 367.5,309.0 370.9,302.8 314.7,271.9" fill="#000"/>
<polygon points="407.0,327.4 377.4,290.6 347.7,313.6" fill="#000" stroke="#000" stroke-width="1" stroke-linejoin="round"/>
<polygon points="454.0,247.8 453.0,349.1 461.0,349.2 462.0,247.8" fill="#000"/>
<polygon points="457.0,381.0 434.4,343.5 479.5,343.5" fill="#000" stroke="#000" stroke-width="1" stroke-linejoin="round"/>
<polygon points="920.3,262.9 926.7,144.5 918.2,144.1 913.3,262.5" fill="#000"/>
<polygon points="924.0,111.0 898.6,150.2 945.7,150.2" fill="#000" stroke="#000" stroke-width="1" stroke-linejoin="round"/>
<polygon points="926.6,315.3 938.3,497.7 945.8,497.3 934.6,314.7" fill="#000"/>
<polygon points="944.3,530.4 917.5,492.2 965.8,491.2" fill="#000" stroke="#000" stroke-width="1" stroke-linejoin="round"/>
<text x="255" y="254.6" font-family="'Liberation Sans', sans-serif" font-size="36" fill="#111" textLength="56.5" lengthAdjust="spacingAndGlyphs">Fill</text>
<text x="349" y="231" font-family="'Liberation Sans', sans-serif" font-size="36" fill="#111" textLength="262" lengthAdjust="spacingAndGlyphs">Binder Warp</text>
<text x="691" y="292.7" font-family="'Liberation Sans', sans-serif" font-size="36" fill="#111" textLength="419" lengthAdjust="spacingAndGlyphs">Basic Straight Warp</text>
</svg>
</body>
</html>
